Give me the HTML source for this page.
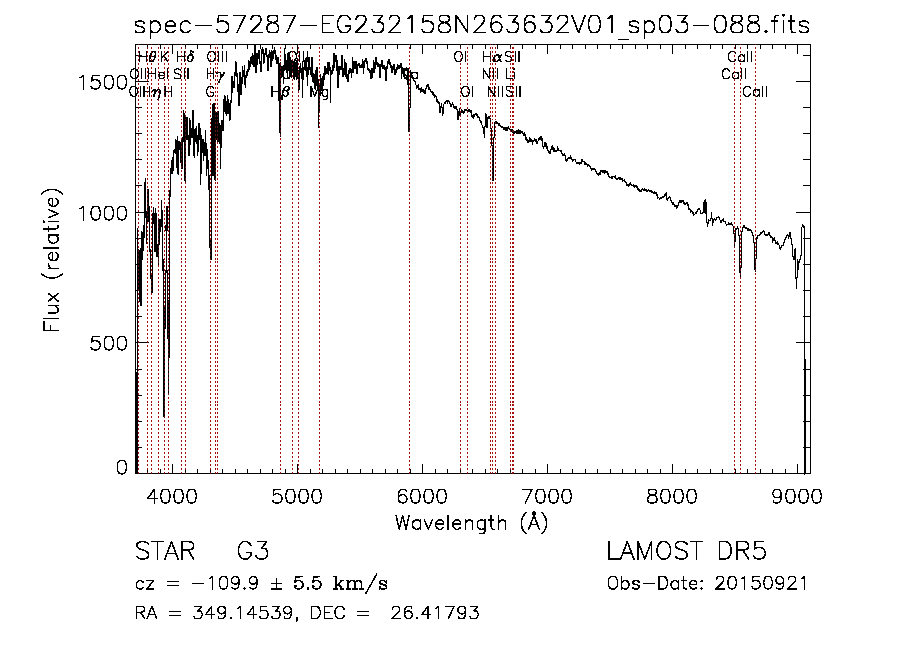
<!DOCTYPE html>
<html><head><meta charset="utf-8"><title>spec-57287-EG232158N263632V01_sp03-088</title>
<style>html,body{margin:0;padding:0;background:#fff;font-family:"Liberation Sans",sans-serif;}svg{display:block}</style>
</head><body>
<svg width="900" height="649" viewBox="0 0 900 649">
<rect width="900" height="649" fill="#fff"/>
<path transform="translate(.5 0)" d="M138 47v2M138 51v2M138 56v1M138 59v2M138 63v2M138 67v2M138 79v2M138 83v2M138 87v2M138 91v2M138 95v2M138 99v2M138 103v2M138 108v1M138 111v2M138 115v2M138 119v1M138 122v2M138 126v2M138 130v2M138 134v2M138 138v2M138 142v2M138 146v2M138 150v2M138 154v2M138 158v1M138 162v2M138 166v2M138 170v2M138 174v2M138 178v2M138 182v2M138 186v2M138 190v2M138 194v2M138 198v2M138 202v2M138 206v2M138 210v2M138 214v2M138 218v2M138 222v2M138 226v2M138 230v2M138 234v2M138 239v1M138 242v2M138 246v2M138 293v2M138 297v2M138 301v2M138 305v2M138 309v2M138 313v2M138 317v2M138 321v2M138 325v2M138 329v2M138 333v2M138 337v2M138 341v1M138 345v2M138 349v2M138 353v2M138 357v2M138 361v2M138 365v2M138 370v1M138 373v2M138 377v2M138 381v2M138 385v2M138 389v2M138 393v2M138 397v2M138 401v2M138 404v2M138 408v2M138 412v2M138 416v2M138 420v1M138 424v2M138 428v2M138 432v2M138 436v2M138 440v2M138 444v2M138 448v2M138 452v2M138 456v2M138 460v2M138 464v2M138 468v2M138 472v1M147 51v2M147 55v2M147 59v2M147 63v2M147 67v2M147 71v2M147 75v2M147 79v2M147 83v2M147 87v2M147 92v1M147 95v2M147 99v2M147 103v2M147 107v2M147 111v2M147 115v2M147 119v1M147 122v2M147 126v2M147 130v2M147 134v2M147 138v2M147 142v2M147 146v2M147 150v2M147 154v2M147 158v2M147 162v2M147 166v2M147 170v2M147 174v2M147 178v2M147 182v2M147 186v2M147 222v2M147 226v2M147 230v2M147 234v2M147 238v2M147 242v2M147 246v2M147 250v2M147 254v2M147 258v2M147 261v2M147 265v2M147 269v2M147 273v2M147 277v2M147 281v2M147 285v2M147 289v2M147 293v2M147 297v2M147 301v2M147 305v2M147 309v2M147 313v2M147 317v2M147 321v2M147 325v2M147 329v2M147 333v2M147 337v2M147 341v1M147 345v2M147 349v2M147 353v2M147 357v2M147 361v2M147 365v2M147 369v2M147 373v2M147 377v2M147 381v2M147 385v2M147 389v2M147 393v2M147 397v2M147 401v2M147 404v2M147 408v2M147 412v2M147 416v2M147 420v2M147 424v2M147 428v2M147 432v2M147 436v2M147 440v2M147 444v2M147 448v2M147 452v2M147 456v2M147 460v2M147 464v2M147 468v1M151 47v2M151 55v1M151 59v2M151 63v2M151 67v2M151 71v2M151 75v2M151 79v2M151 83v2M151 87v2M151 91v2M151 95v2M151 99v2M151 103v2M151 107v2M151 111v2M151 115v2M151 119v1M151 122v2M151 126v2M151 130v2M151 134v2M151 138v2M151 142v2M151 146v2M151 150v2M151 154v2M151 158v2M151 162v2M151 166v2M151 170v2M151 174v2M151 178v2M151 182v2M151 186v2M151 190v2M151 194v2M151 198v2M151 202v2M151 206v2M151 210v2M151 214v2M151 218v2M151 222v2M151 226v2M151 230v2M151 234v2M151 238v2M151 242v2M151 246v2M151 250v2M151 254v2M151 258v2M151 261v2M151 265v2M151 269v2M151 273v2M151 293v2M151 297v2M151 301v2M151 305v2M151 309v2M151 313v2M151 317v2M151 321v2M151 325v2M151 329v2M151 333v2M151 337v2M151 341v2M151 345v2M151 349v2M151 353v2M151 357v2M151 361v2M151 365v2M151 369v2M151 373v2M151 377v2M151 381v2M151 385v2M151 389v2M151 393v2M151 397v2M151 401v2M151 404v2M151 408v2M151 412v2M151 416v2M151 420v2M151 424v2M151 428v2M151 432v2M151 436v2M151 440v2M151 444v2M151 448v2M151 452v2M151 456v2M151 460v2M151 464v2M151 468v2M151 472v1M158 47v2M158 51v2M158 55v2M158 59v2M158 63v2M158 67v2M158 71v2M158 79v2M158 83v2M158 87v2M158 91v2M158 100v1M158 103v2M158 107v2M158 111v2M158 115v2M158 119v1M158 122v2M158 126v2M158 130v2M158 134v2M158 138v2M158 142v2M158 146v2M158 150v2M158 154v2M158 158v2M158 162v2M158 166v2M158 170v2M158 174v2M158 178v2M158 182v2M158 186v2M158 190v2M158 194v2M158 198v2M158 202v2M158 206v2M158 210v2M158 214v2M158 218v1M158 265v2M158 269v2M158 273v2M158 277v2M158 281v2M158 285v2M158 289v2M158 293v2M158 297v2M158 301v2M158 305v2M158 309v2M158 313v2M158 317v2M158 321v2M158 325v2M158 329v2M158 333v2M158 337v2M158 341v2M158 345v2M158 349v2M158 353v2M158 357v2M158 361v2M158 365v2M158 369v2M158 373v2M158 377v2M158 381v2M158 385v2M158 389v2M158 393v2M158 397v2M158 401v2M158 404v2M158 408v2M158 412v2M158 416v2M158 420v2M158 424v2M158 428v2M158 432v2M158 436v2M158 440v2M158 444v2M158 448v2M158 452v2M158 456v2M158 460v2M158 464v2M158 468v2M158 472v1M164 47v2M164 51v2M164 59v2M164 63v2M164 67v2M164 71v2M164 76v1M164 79v2M164 83v2M164 99v2M164 103v2M164 107v2M164 111v2M164 115v2M164 119v1M164 122v2M164 126v2M164 130v2M164 134v2M164 138v2M164 142v2M164 146v2M164 150v2M164 154v2M164 158v2M164 162v2M164 166v2M164 170v2M164 174v2M164 178v2M164 182v2M164 186v2M164 190v2M164 194v2M164 198v2M164 202v2M164 206v2M164 210v2M164 214v2M164 218v2M164 222v2M164 226v2M164 230v2M164 234v2M164 238v2M164 242v2M164 246v2M164 250v2M164 254v2M164 258v2M164 261v2M164 265v2M164 269v2M164 273v2M164 277v2M164 281v2M164 285v2M164 289v2M164 293v2M164 297v2M164 301v2M164 305v2M164 420v2M164 424v2M164 428v2M164 432v2M164 436v2M164 440v2M164 444v2M164 448v2M164 452v2M164 456v2M164 460v2M164 464v2M164 468v2M164 472v1M168 47v2M168 51v2M168 55v2M168 59v2M168 63v2M168 67v2M168 71v2M168 75v2M168 79v2M168 83v2M168 87v2M168 92v1M168 95v2M168 99v2M168 103v2M168 107v2M168 111v2M168 115v2M168 119v1M168 122v2M168 126v2M168 130v2M168 134v2M168 138v2M168 142v2M168 146v2M168 150v2M168 154v2M168 158v2M168 162v2M168 166v2M168 170v2M168 174v2M168 178v2M168 182v2M168 186v2M168 190v2M168 194v2M168 198v2M168 202v2M168 206v2M168 210v2M168 214v2M168 218v2M168 222v2M168 226v2M168 230v2M168 234v2M168 238v2M168 242v2M168 246v2M168 250v2M168 254v2M168 258v2M168 261v2M168 265v2M168 269v2M168 273v2M168 277v2M168 281v2M168 285v2M168 289v2M168 293v2M168 297v2M168 397v2M168 401v2M168 404v2M168 408v2M168 412v2M168 416v2M168 420v2M168 424v2M168 428v2M168 432v2M168 436v2M168 440v2M168 444v2M168 448v2M168 452v2M168 456v2M168 460v2M168 464v2M168 468v2M168 472v1M181 47v2M181 51v2M181 55v1M181 59v2M181 63v2M181 67v2M181 71v2M181 75v2M181 79v2M181 83v2M181 87v2M181 91v2M181 95v2M181 99v2M181 103v2M181 107v2M181 111v2M181 115v2M181 119v1M181 122v2M181 126v2M181 130v2M181 134v2M181 138v1M181 170v2M181 174v2M181 178v2M181 182v2M181 186v2M181 190v2M181 194v2M181 198v2M181 202v2M181 206v2M181 210v2M181 214v2M181 218v2M181 222v2M181 226v2M181 230v2M181 234v2M181 238v2M181 242v2M181 246v2M181 250v2M181 254v2M181 258v2M181 261v2M181 265v2M181 269v2M181 273v2M181 277v2M181 281v2M181 285v2M181 289v2M181 293v2M181 297v2M181 301v2M181 305v2M181 309v2M181 313v2M181 317v2M181 321v2M181 325v2M181 329v2M181 333v2M181 337v2M181 341v2M181 345v2M181 349v2M181 353v2M181 357v2M181 361v2M181 365v2M181 369v2M181 373v2M181 377v2M181 381v2M181 385v2M181 389v2M181 393v2M181 397v2M181 401v2M181 404v2M181 408v2M181 412v2M181 416v2M181 420v2M181 424v2M181 428v2M181 432v2M181 436v2M181 440v2M181 444v2M181 448v2M181 452v2M181 456v2M181 460v2M181 464v2M181 468v2M181 472v1M185 51v2M185 55v2M185 59v2M185 63v2M185 67v2M185 71v2M185 75v2M185 79v2M185 83v2M185 87v2M185 91v2M185 95v2M185 99v2M185 103v2M185 107v2M185 111v2M185 183v1M185 186v2M185 190v2M185 194v2M185 198v2M185 202v2M185 206v2M185 210v2M185 214v2M185 218v2M185 222v2M185 226v2M185 230v2M185 234v2M185 238v2M185 242v2M185 246v2M185 250v2M185 254v2M185 258v2M185 261v2M185 265v2M185 269v2M185 273v2M185 277v2M185 281v2M185 285v2M185 289v2M185 293v2M185 297v2M185 301v2M185 305v2M185 309v2M185 313v2M185 317v2M185 321v2M185 325v2M185 329v2M185 333v2M185 337v2M185 341v2M185 345v2M185 349v2M185 353v2M185 357v2M185 361v2M185 365v2M185 369v2M185 373v2M185 377v2M185 381v2M185 385v2M185 389v2M185 393v2M185 397v2M185 401v2M185 404v2M185 408v2M185 412v2M185 416v2M185 420v2M185 424v2M185 428v2M185 432v2M185 436v2M185 440v2M185 444v2M185 448v2M185 452v2M185 456v2M185 460v2M185 464v2M185 468v1M210 52v1M210 55v2M210 59v2M210 63v2M210 67v2M210 71v2M210 75v2M210 79v2M210 83v2M210 87v2M210 91v2M210 95v1M210 99v2M210 103v2M210 107v2M210 111v2M210 115v2M210 119v1M210 122v2M210 126v2M210 130v2M210 134v2M210 138v2M210 142v2M210 146v2M210 150v2M210 154v2M210 158v2M210 162v2M210 166v2M210 170v2M210 174v2M210 178v2M210 182v2M210 186v2M210 190v2M210 194v2M210 198v2M210 202v2M210 206v2M210 210v2M210 214v2M210 218v2M210 222v2M210 226v2M210 230v2M210 234v2M210 238v2M210 261v2M210 265v2M210 269v2M210 273v2M210 277v2M210 281v2M210 285v2M210 289v2M210 293v2M210 297v2M210 301v2M210 305v2M210 309v2M210 313v2M210 317v2M210 321v2M210 325v2M210 329v2M210 333v2M210 337v2M210 341v2M210 345v2M210 349v2M210 353v2M210 357v2M210 361v2M210 365v2M210 369v2M210 373v2M210 377v2M210 381v2M210 385v2M210 389v2M210 393v2M210 397v2M210 401v2M210 404v2M210 408v2M210 412v2M210 416v2M210 420v2M210 424v2M210 428v2M210 432v2M210 436v2M210 440v2M210 444v2M210 448v2M210 452v2M210 456v2M210 460v2M210 464v2M210 468v1M215 47v2M215 51v2M215 59v2M215 63v2M215 67v2M215 71v2M215 75v2M215 79v2M215 83v2M215 87v2M215 91v2M215 95v2M215 99v2M215 103v2M215 107v2M215 182v2M215 186v2M215 190v2M215 194v2M215 198v2M215 202v2M215 206v2M215 210v2M215 214v2M215 218v2M215 222v2M215 226v2M215 230v2M215 234v2M215 238v2M215 242v2M215 246v2M215 250v2M215 254v2M215 258v2M215 261v2M215 265v2M215 269v2M215 273v2M215 277v2M215 281v2M215 285v2M215 289v2M215 293v2M215 297v2M215 301v2M215 305v2M215 309v2M215 313v2M215 317v2M215 321v2M215 325v2M215 329v2M215 333v2M215 337v2M215 341v2M215 345v2M215 349v2M215 353v2M215 357v2M215 361v2M215 365v2M215 369v2M215 373v2M215 377v2M215 381v2M215 385v2M215 389v2M215 393v2M215 397v2M215 401v2M215 404v2M215 408v2M215 412v2M215 416v2M215 420v2M215 424v2M215 428v2M215 432v2M215 436v2M215 440v2M215 444v2M215 448v2M215 452v2M215 456v2M215 460v2M215 464v2M215 468v2M215 472v1M217 47v2M217 51v2M217 55v2M217 59v2M217 63v2M217 67v2M217 71v1M217 75v2M217 79v2M217 83v2M217 87v2M217 91v2M217 95v2M217 99v2M217 103v2M217 107v2M217 142v2M217 146v2M217 150v2M217 154v2M217 158v2M217 162v2M217 166v2M217 170v2M217 174v2M217 178v2M217 182v2M217 186v2M217 190v2M217 194v2M217 198v2M217 202v2M217 206v2M217 210v2M217 214v2M217 218v2M217 222v2M217 226v2M217 230v2M217 234v2M217 238v2M217 242v2M217 246v2M217 250v2M217 254v2M217 258v2M217 261v2M217 265v2M217 269v2M217 273v2M217 277v2M217 281v2M217 285v2M217 289v2M217 293v2M217 297v2M217 301v2M217 305v2M217 309v2M217 313v2M217 317v2M217 321v2M217 325v2M217 329v2M217 333v2M217 337v2M217 341v2M217 345v2M217 349v2M217 353v2M217 357v2M217 361v2M217 365v2M217 369v2M217 373v2M217 377v2M217 381v2M217 385v2M217 389v2M217 393v2M217 397v2M217 401v2M217 404v2M217 408v2M217 412v2M217 416v2M217 420v2M217 424v2M217 428v2M217 432v2M217 436v2M217 440v2M217 444v2M217 448v2M217 452v2M217 456v2M217 460v2M217 464v2M217 468v2M217 472v1M280 47v2M280 51v2M280 55v2M280 59v2M280 138v2M280 142v2M280 146v2M280 150v2M280 154v2M280 158v2M280 162v2M280 166v2M280 170v2M280 174v2M280 178v2M280 182v2M280 186v2M280 190v2M280 194v2M280 198v2M280 202v2M280 206v2M280 210v2M280 214v2M280 218v2M280 222v2M280 226v2M280 230v2M280 234v2M280 238v2M280 242v2M280 246v2M280 250v2M280 254v2M280 258v2M280 261v2M280 265v2M280 269v2M280 273v2M280 277v2M280 281v2M280 285v2M280 289v2M280 293v2M280 297v2M280 301v2M280 305v2M280 309v2M280 313v2M280 317v2M280 321v2M280 325v2M280 329v2M280 333v2M280 337v2M280 341v2M280 345v2M280 349v2M280 353v2M280 357v2M280 361v2M280 365v2M280 369v2M280 373v2M280 377v2M280 381v2M280 385v2M280 389v2M280 393v2M280 397v2M280 401v2M280 404v2M280 408v2M280 412v2M280 416v2M280 420v2M280 424v2M280 428v2M280 432v2M280 436v2M280 440v2M280 444v2M280 448v2M280 452v2M280 456v2M280 460v2M280 464v2M280 468v2M280 472v1M292 47v2M292 52v1M292 55v2M292 59v1M292 75v2M292 79v2M292 83v2M292 87v2M292 91v2M292 95v2M292 99v2M292 103v2M292 107v2M292 111v2M292 115v2M292 119v1M292 122v2M292 126v2M292 130v2M292 134v2M292 138v2M292 142v2M292 146v2M292 150v2M292 154v2M292 158v2M292 162v2M292 166v2M292 170v2M292 174v2M292 178v2M292 182v2M292 186v2M292 190v2M292 194v2M292 198v2M292 202v2M292 206v2M292 210v2M292 214v2M292 218v2M292 222v2M292 226v2M292 230v2M292 234v2M292 238v2M292 242v2M292 246v2M292 250v2M292 254v2M292 258v2M292 261v2M292 265v2M292 269v2M292 273v2M292 277v2M292 281v2M292 285v2M292 289v2M292 293v2M292 297v2M292 301v2M292 305v2M292 309v2M292 313v2M292 317v2M292 321v2M292 325v2M292 329v2M292 333v2M292 337v2M292 341v2M292 345v2M292 349v2M292 353v2M292 357v2M292 361v2M292 365v2M292 369v2M292 373v2M292 377v2M292 381v2M292 385v2M292 389v2M292 393v2M292 397v2M292 401v2M292 404v2M292 408v2M292 412v2M292 416v2M292 420v2M292 424v2M292 428v2M292 432v2M292 436v2M292 440v2M292 444v2M292 448v2M292 452v2M292 456v2M292 460v2M292 464v2M292 468v2M292 472v1M298 47v2M298 51v2M298 55v2M298 59v2M298 63v2M298 67v2M298 91v2M298 95v2M298 99v2M298 103v2M298 107v2M298 111v2M298 115v2M298 119v1M298 122v2M298 126v2M298 130v2M298 134v2M298 138v2M298 142v2M298 146v2M298 150v2M298 154v2M298 158v2M298 162v2M298 166v2M298 170v2M298 174v2M298 178v2M298 182v2M298 186v2M298 190v2M298 194v2M298 198v2M298 202v2M298 206v2M298 210v2M298 214v2M298 218v2M298 222v2M298 226v2M298 230v2M298 234v2M298 238v2M298 242v2M298 246v2M298 250v2M298 254v2M298 258v2M298 261v2M298 265v2M298 269v2M298 273v2M298 277v2M298 281v2M298 285v2M298 289v2M298 293v2M298 297v2M298 301v2M298 305v2M298 309v2M298 313v2M298 317v2M298 321v2M298 325v2M298 329v2M298 333v2M298 337v2M298 341v2M298 345v2M298 349v2M298 353v2M298 357v2M298 361v2M298 365v2M298 369v2M298 373v2M298 377v2M298 381v2M298 385v2M298 389v2M298 393v2M298 397v2M298 401v2M298 404v2M298 408v2M298 412v2M298 416v2M298 420v2M298 424v2M298 428v2M298 432v2M298 436v2M298 440v2M298 444v2M298 448v2M298 452v2M298 456v2M298 460v2M298 464v2M298 468v2M298 472v1M319 47v2M319 51v2M319 55v2M319 59v2M319 63v2M319 67v2M319 71v2M319 75v2M319 79v2M319 83v2M319 115v2M319 119v1M319 122v2M319 126v2M319 130v2M319 134v2M319 138v2M319 142v2M319 146v2M319 150v2M319 154v2M319 158v2M319 162v2M319 166v2M319 170v2M319 174v2M319 178v2M319 182v2M319 186v2M319 190v2M319 194v2M319 198v2M319 202v2M319 206v2M319 210v2M319 214v2M319 218v2M319 222v2M319 226v2M319 230v2M319 234v2M319 238v2M319 242v2M319 246v2M319 250v2M319 254v2M319 258v2M319 261v2M319 265v2M319 269v2M319 273v2M319 277v2M319 281v2M319 285v2M319 289v2M319 293v2M319 297v2M319 301v2M319 305v2M319 309v2M319 313v2M319 317v2M319 321v2M319 325v2M319 329v2M319 333v2M319 337v2M319 341v2M319 345v2M319 349v2M319 353v2M319 357v2M319 361v2M319 365v2M319 369v2M319 373v2M319 377v2M319 381v2M319 385v2M319 389v2M319 393v2M319 397v2M319 401v2M319 404v2M319 408v2M319 412v2M319 416v2M319 420v2M319 424v2M319 428v2M319 432v2M319 436v2M319 440v2M319 444v2M319 448v2M319 452v2M319 456v2M319 460v2M319 464v2M319 468v2M319 472v1M409 47v2M409 51v2M409 55v2M409 59v2M409 63v2M409 67v2M409 71v2M409 75v2M409 79v2M409 83v2M409 87v2M409 91v2M409 95v2M409 99v2M409 103v2M409 134v2M409 138v2M409 142v2M409 146v2M409 150v2M409 154v2M409 158v2M409 162v2M409 166v2M409 170v2M409 174v2M409 178v2M409 182v2M409 186v2M409 190v2M409 194v2M409 198v2M409 202v2M409 206v2M409 210v2M409 214v2M409 218v2M409 222v2M409 226v2M409 230v2M409 234v2M409 238v2M409 242v2M409 246v2M409 250v2M409 254v2M409 258v2M409 261v2M409 265v2M409 269v2M409 273v2M409 277v2M409 281v2M409 285v2M409 289v2M409 293v2M409 297v2M409 301v2M409 305v2M409 309v2M409 313v2M409 317v2M409 321v2M409 325v2M409 329v2M409 333v2M409 337v2M409 341v2M409 345v2M409 349v2M409 353v2M409 357v2M409 361v2M409 365v2M409 369v2M409 373v2M409 377v2M409 381v2M409 385v2M409 389v2M409 393v2M409 397v2M409 401v2M409 404v2M409 408v2M409 412v2M409 416v2M409 420v2M409 424v2M409 428v2M409 432v2M409 436v2M409 440v2M409 444v2M409 448v2M409 452v2M409 456v2M409 460v2M409 464v2M409 468v2M409 472v1M460 55v2M460 59v1M460 63v2M460 67v2M460 71v2M460 75v2M460 79v2M460 83v2M460 87v2M460 91v2M460 95v2M460 99v2M460 103v2M460 107v2M460 111v1M460 116v1M460 119v1M460 122v2M460 126v2M460 130v2M460 134v2M460 138v2M460 142v2M460 146v2M460 150v2M460 154v2M460 158v2M460 162v2M460 166v2M460 170v2M460 174v2M460 178v2M460 182v2M460 186v2M460 190v2M460 194v2M460 198v2M460 202v2M460 206v2M460 210v2M460 214v2M460 218v2M460 222v2M460 226v2M460 230v2M460 234v2M460 238v2M460 242v2M460 246v2M460 250v2M460 254v2M460 258v2M460 261v2M460 265v2M460 269v2M460 273v2M460 277v2M460 281v2M460 285v2M460 289v2M460 293v2M460 297v2M460 301v2M460 305v2M460 309v2M460 313v2M460 317v2M460 321v2M460 325v2M460 329v2M460 333v2M460 337v2M460 341v2M460 345v2M460 349v2M460 353v2M460 357v2M460 361v2M460 365v2M460 369v2M460 373v2M460 377v2M460 381v2M460 385v2M460 389v2M460 393v2M460 397v2M460 401v2M460 404v2M460 408v2M460 412v2M460 416v2M460 420v2M460 424v2M460 428v2M460 432v2M460 436v2M460 440v2M460 444v2M460 448v2M460 452v2M460 456v2M460 460v2M460 464v2M460 468v1M467 47v2M467 51v2M467 55v2M467 59v2M467 63v2M467 67v2M467 71v2M467 75v2M467 79v2M467 83v2M467 88v1M467 91v2M467 99v2M467 103v2M467 107v2M467 115v2M467 119v1M467 122v2M467 126v2M467 130v2M467 134v2M467 138v2M467 142v2M467 146v2M467 150v2M467 154v2M467 158v2M467 162v2M467 166v2M467 170v2M467 174v2M467 178v2M467 182v2M467 186v2M467 190v2M467 194v2M467 198v2M467 202v2M467 206v2M467 210v2M467 214v2M467 218v2M467 222v2M467 226v2M467 230v2M467 234v2M467 238v2M467 242v2M467 246v2M467 250v2M467 254v2M467 258v2M467 261v2M467 265v2M467 269v2M467 273v2M467 277v2M467 281v2M467 285v2M467 289v2M467 293v2M467 297v2M467 301v2M467 305v2M467 309v2M467 313v2M467 317v2M467 321v2M467 325v2M467 329v2M467 333v2M467 337v2M467 341v2M467 345v2M467 349v2M467 353v2M467 357v2M467 361v2M467 365v2M467 369v2M467 373v2M467 377v2M467 381v2M467 385v2M467 389v2M467 393v2M467 397v2M467 401v2M467 404v2M467 408v2M467 412v2M467 416v2M467 420v2M467 424v2M467 428v2M467 432v2M467 436v2M467 440v2M467 444v2M467 448v2M467 452v2M467 456v2M467 460v2M467 464v2M467 468v2M467 472v1M490 47v2M490 63v2M490 67v2M490 71v2M490 75v2M490 79v2M490 83v2M490 87v2M490 91v2M490 95v2M490 99v2M490 103v2M490 107v2M490 111v2M490 115v2M490 130v2M490 134v2M490 138v2M490 142v2M490 146v2M490 150v2M490 154v2M490 158v2M490 162v2M490 166v2M490 170v2M490 174v2M490 178v2M490 182v2M490 186v2M490 190v2M490 194v2M490 198v2M490 202v2M490 206v2M490 210v2M490 214v2M490 218v2M490 222v2M490 226v2M490 230v2M490 234v2M490 238v2M490 242v2M490 246v2M490 250v2M490 254v2M490 258v2M490 261v2M490 265v2M490 269v2M490 273v2M490 277v2M490 281v2M490 285v2M490 289v2M490 293v2M490 297v2M490 301v2M490 305v2M490 309v2M490 313v2M490 317v2M490 321v2M490 325v2M490 329v2M490 333v2M490 337v2M490 341v2M490 345v2M490 349v2M490 353v2M490 357v2M490 361v2M490 365v2M490 369v2M490 373v2M490 377v2M490 381v2M490 385v2M490 389v2M490 393v2M490 397v2M490 401v2M490 404v2M490 408v2M490 412v2M490 416v2M490 420v2M490 424v2M490 428v2M490 432v2M490 436v2M490 440v2M490 444v2M490 448v2M490 452v2M490 456v2M490 460v2M490 464v2M490 468v2M490 472v1M492 47v2M492 51v2M492 55v2M492 59v2M492 63v2M492 67v2M492 71v2M492 75v2M492 79v2M492 83v2M492 87v2M492 95v2M492 99v2M492 103v2M492 107v2M492 111v2M492 115v2M492 119v1M492 122v2M492 126v2M492 130v2M492 134v2M492 138v2M492 142v2M492 182v2M492 186v2M492 190v2M492 194v2M492 198v2M492 202v2M492 206v2M492 210v2M492 214v2M492 218v2M492 222v2M492 226v2M492 230v2M492 234v2M492 238v2M492 242v2M492 246v2M492 250v2M492 254v2M492 258v2M492 261v2M492 265v2M492 269v2M492 273v2M492 277v2M492 281v2M492 285v2M492 289v2M492 293v2M492 297v2M492 301v2M492 305v2M492 309v2M492 313v2M492 317v2M492 321v2M492 325v2M492 329v2M492 333v2M492 337v2M492 341v2M492 345v2M492 349v2M492 353v2M492 357v2M492 361v2M492 365v2M492 369v2M492 373v2M492 377v2M492 381v2M492 385v2M492 389v2M492 393v2M492 397v2M492 401v2M492 404v2M492 408v2M492 412v2M492 416v2M492 420v2M492 424v2M492 428v2M492 432v2M492 436v2M492 440v2M492 444v2M492 448v2M492 452v2M492 456v2M492 460v2M492 464v2M492 468v2M492 472v1M495 47v2M495 51v2M495 59v2M495 63v2M495 67v2M495 71v2M495 75v2M495 79v2M495 83v2M495 87v2M495 91v2M495 95v2M495 99v2M495 103v2M495 107v2M495 111v2M495 115v2M495 119v1M495 126v2M495 130v2M495 134v2M495 138v2M495 142v2M495 146v2M495 150v2M495 154v2M495 158v2M495 162v2M495 166v2M495 170v2M495 174v2M495 178v2M495 182v2M495 186v2M495 190v2M495 194v2M495 198v2M495 202v2M495 206v2M495 210v2M495 214v2M495 218v2M495 222v2M495 226v2M495 230v2M495 234v2M495 238v2M495 242v2M495 246v2M495 250v2M495 254v2M495 258v2M495 261v2M495 265v2M495 269v2M495 273v2M495 277v2M495 281v2M495 285v2M495 289v2M495 293v2M495 297v2M495 301v2M495 305v2M495 309v2M495 313v2M495 317v2M495 321v2M495 325v2M495 329v2M495 333v2M495 337v2M495 341v2M495 345v2M495 349v2M495 353v2M495 357v2M495 361v2M495 365v2M495 369v2M495 373v2M495 377v2M495 381v2M495 385v2M495 389v2M495 393v2M495 397v2M495 401v2M495 404v2M495 408v2M495 412v2M495 416v2M495 420v2M495 424v2M495 428v2M495 432v2M495 436v2M495 440v2M495 444v2M495 448v2M495 452v2M495 456v2M495 460v2M495 464v2M495 468v2M495 472v1M510 55v1M510 59v1M510 63v2M510 67v2M510 71v2M510 75v2M510 79v2M510 83v2M510 87v2M510 92v1M510 95v1M510 99v2M510 103v2M510 107v2M510 111v2M510 115v2M510 119v1M510 122v2M510 126v2M510 131v1M510 134v2M510 138v2M510 142v2M510 146v2M510 150v2M510 154v2M510 158v2M510 162v2M510 166v2M510 170v2M510 174v2M510 178v2M510 182v2M510 186v2M510 190v2M510 194v2M510 198v2M510 202v2M510 206v2M510 210v2M510 214v2M510 218v2M510 222v2M510 226v2M510 230v2M510 234v2M510 238v2M510 242v2M510 246v2M510 250v2M510 254v2M510 258v2M510 261v2M510 265v2M510 269v2M510 273v2M510 277v2M510 281v2M510 285v2M510 289v2M510 293v2M510 297v2M510 301v2M510 305v2M510 309v2M510 313v2M510 317v2M510 321v2M510 325v2M510 329v2M510 333v2M510 337v2M510 341v2M510 345v2M510 349v2M510 353v2M510 357v2M510 361v2M510 365v2M510 369v2M510 373v2M510 377v2M510 381v2M510 385v2M510 389v2M510 393v2M510 397v2M510 401v2M510 404v2M510 408v2M510 412v2M510 416v2M510 420v2M510 424v2M510 428v2M510 432v2M510 436v2M510 440v2M510 444v2M510 448v2M510 452v2M510 456v2M510 460v2M510 464v2M510 468v1M512 47v2M512 51v2M512 55v2M512 59v2M512 63v2M512 67v2M512 71v2M512 75v2M512 79v2M512 83v2M512 88v1M512 91v1M512 96v1M512 99v2M512 103v2M512 107v2M512 111v2M512 115v2M512 119v1M512 122v2M512 126v2M512 134v2M512 138v2M512 142v2M512 146v2M512 150v2M512 154v2M512 158v2M512 162v2M512 166v2M512 170v2M512 174v2M512 178v2M512 182v2M512 186v2M512 190v2M512 194v2M512 198v2M512 202v2M512 206v2M512 210v2M512 214v2M512 218v2M512 222v2M512 226v2M512 230v2M512 234v2M512 238v2M512 242v2M512 246v2M512 250v2M512 254v2M512 258v2M512 261v2M512 265v2M512 269v2M512 273v2M512 277v2M512 281v2M512 285v2M512 289v2M512 293v2M512 297v2M512 301v2M512 305v2M512 309v2M512 313v2M512 317v2M512 321v2M512 325v2M512 329v2M512 333v2M512 337v2M512 341v2M512 345v2M512 349v2M512 353v2M512 357v2M512 361v2M512 365v2M512 369v2M512 373v2M512 377v2M512 381v2M512 385v2M512 389v2M512 393v2M512 397v2M512 401v2M512 404v2M512 408v2M512 412v2M512 416v2M512 420v2M512 424v2M512 428v2M512 432v2M512 436v2M512 440v2M512 444v2M512 448v2M512 452v2M512 456v2M512 460v2M512 464v2M512 468v2M512 472v1M513 47v2M513 51v2M513 55v2M513 59v2M513 63v2M513 67v1M513 71v2M513 75v2M513 79v2M513 83v2M513 87v2M513 91v2M513 95v2M513 99v2M513 103v2M513 107v2M513 111v2M513 115v2M513 119v1M513 122v2M513 126v2M513 134v2M513 138v2M513 142v2M513 146v2M513 150v2M513 154v2M513 158v2M513 162v2M513 166v2M513 170v2M513 174v2M513 178v2M513 182v2M513 186v2M513 190v2M513 194v2M513 198v2M513 202v2M513 206v2M513 210v2M513 214v2M513 218v2M513 222v2M513 226v2M513 230v2M513 234v2M513 238v2M513 242v2M513 246v2M513 250v2M513 254v2M513 258v2M513 261v2M513 265v2M513 269v2M513 273v2M513 277v2M513 281v2M513 285v2M513 289v2M513 293v2M513 297v2M513 301v2M513 305v2M513 309v2M513 313v2M513 317v2M513 321v2M513 325v2M513 329v2M513 333v2M513 337v2M513 341v2M513 345v2M513 349v2M513 353v2M513 357v2M513 361v2M513 365v2M513 369v2M513 373v2M513 377v2M513 381v2M513 385v2M513 389v2M513 393v2M513 397v2M513 401v2M513 404v2M513 408v2M513 412v2M513 416v2M513 420v2M513 424v2M513 428v2M513 432v2M513 436v2M513 440v2M513 444v2M513 448v2M513 452v2M513 456v2M513 460v2M513 464v2M513 468v2M513 472v1M734 47v2M734 55v2M734 59v1M734 63v2M734 67v2M734 71v1M734 75v2M734 79v2M734 83v2M734 87v2M734 91v2M734 95v2M734 99v2M734 103v2M734 107v2M734 111v2M734 115v2M734 119v1M734 122v2M734 126v2M734 130v2M734 134v2M734 138v2M734 142v2M734 146v2M734 150v2M734 154v2M734 158v2M734 162v2M734 166v2M734 170v2M734 174v2M734 178v2M734 182v2M734 186v2M734 190v2M734 194v2M734 198v2M734 202v2M734 206v2M734 210v2M734 214v2M734 218v2M734 222v2M734 226v2M734 230v2M734 250v2M734 254v2M734 258v2M734 261v2M734 265v2M734 269v2M734 273v2M734 277v2M734 281v2M734 285v2M734 289v2M734 293v2M734 297v2M734 301v2M734 305v2M734 309v2M734 313v2M734 317v2M734 321v2M734 325v2M734 329v2M734 333v2M734 337v2M734 341v2M734 345v2M734 349v2M734 353v2M734 357v2M734 361v2M734 365v2M734 369v2M734 373v2M734 377v2M734 381v2M734 385v2M734 389v2M734 393v2M734 397v2M734 401v2M734 404v2M734 408v2M734 412v2M734 416v2M734 420v2M734 424v2M734 428v2M734 432v2M734 436v2M734 440v2M734 444v2M734 448v2M734 452v2M734 456v2M734 460v2M734 464v2M734 468v2M734 472v1M740 47v2M740 51v2M740 56v1M740 59v2M740 63v2M740 67v2M740 71v2M740 75v2M740 79v2M740 83v2M740 87v2M740 91v2M740 95v2M740 99v2M740 103v2M740 107v2M740 111v2M740 115v2M740 119v1M740 122v2M740 126v2M740 130v2M740 134v2M740 138v2M740 142v2M740 146v2M740 150v2M740 154v2M740 158v2M740 162v2M740 166v2M740 170v2M740 174v2M740 178v2M740 182v2M740 186v2M740 190v2M740 194v2M740 198v2M740 202v2M740 206v2M740 210v2M740 214v2M740 218v2M740 222v2M740 226v2M740 230v2M740 234v2M740 238v2M740 242v2M740 246v2M740 250v2M740 254v2M740 258v2M740 261v2M740 265v2M740 277v2M740 281v2M740 285v2M740 289v2M740 293v2M740 297v2M740 301v2M740 305v2M740 309v2M740 313v2M740 317v2M740 321v2M740 325v2M740 329v2M740 333v2M740 337v2M740 341v2M740 345v2M740 349v2M740 353v2M740 357v2M740 361v2M740 365v2M740 369v2M740 373v2M740 377v2M740 381v2M740 385v2M740 389v2M740 393v2M740 397v2M740 401v2M740 404v2M740 408v2M740 412v2M740 416v2M740 420v2M740 424v2M740 428v2M740 432v2M740 436v2M740 440v2M740 444v2M740 448v2M740 452v2M740 456v2M740 460v2M740 464v2M740 468v2M740 472v1M755 47v2M755 51v2M755 55v2M755 59v2M755 63v2M755 67v2M755 71v2M755 75v2M755 79v2M755 83v2M755 87v2M755 91v2M755 99v2M755 103v2M755 107v2M755 111v2M755 115v2M755 119v1M755 122v2M755 126v2M755 130v2M755 134v2M755 138v2M755 142v2M755 146v2M755 150v2M755 154v2M755 158v2M755 162v2M755 166v2M755 170v2M755 174v2M755 178v2M755 182v2M755 186v2M755 190v2M755 194v2M755 198v2M755 202v2M755 206v2M755 210v2M755 214v2M755 218v2M755 222v2M755 226v2M755 230v2M755 234v2M755 238v2M755 242v2M755 246v2M755 250v2M755 254v2M755 273v2M755 277v2M755 281v2M755 285v2M755 289v2M755 293v2M755 297v2M755 301v2M755 305v2M755 309v2M755 313v2M755 317v2M755 321v2M755 325v2M755 329v2M755 333v2M755 337v2M755 341v2M755 345v2M755 349v2M755 353v2M755 357v2M755 361v2M755 365v2M755 369v2M755 373v2M755 377v2M755 381v2M755 385v2M755 389v2M755 393v2M755 397v2M755 401v2M755 404v2M755 408v2M755 412v2M755 416v2M755 420v2M755 424v2M755 428v2M755 432v2M755 436v2M755 440v2M755 444v2M755 448v2M755 452v2M755 456v2M755 460v2M755 464v2M755 468v2M755 472v1" stroke="#a50c0c" stroke-width="1" fill="none" shape-rendering="crispEdges"/>
<path transform="translate(.5 0)" d="M41 193v2M41 273v2M42 192v2M42 274v2M43 191v2M43 220v3M43 228v2M43 247v2M43 274v2M43 318v1M43 321v10M44 191v1M44 221v2M44 228v2M44 247v2M44 275v2M44 318v1M44 321v10M45 190v2M45 228v2M45 247v2M45 276v1M45 318v1M45 330v1M46 190v1M46 228v2M46 247v2M46 276v2M46 318v1M46 330v1M47 189v2M47 228v2M47 247v2M47 277v1M47 318v1M47 330v1M48 189v2M48 199v5M48 209v1M48 217v1M48 221v1M48 226v6M48 234v7M48 247v2M48 254v5M48 263v4M48 268v1M48 277v1M48 293v2M48 300v2M48 305v1M48 312v2M48 318v1M48 330v1M49 189v1M49 198v3M49 203v3M49 209v2M49 216v2M49 221v1M49 228v2M49 234v4M49 240v3M49 247v2M49 253v2M49 257v3M49 265v4M49 277v2M49 293v2M49 299v2M49 305v1M49 312v2M49 318v1M49 330v1M50 189v1M50 198v1M50 204v2M50 210v1M50 216v2M50 221v1M50 228v2M50 234v2M50 241v2M50 247v2M50 252v2M50 259v2M50 267v2M50 277v2M50 294v2M50 298v3M50 305v1M50 312v2M50 318v1M50 325v6M51 189v1M51 198v1M51 205v2M51 210v2M51 216v1M51 221v1M51 228v2M51 234v2M51 242v2M51 247v2M51 252v1M51 259v2M51 268v1M51 277v2M51 295v2M51 298v2M51 305v1M51 312v2M51 318v1M51 330v1M52 189v1M52 198v9M52 210v2M52 215v2M52 221v1M52 228v2M52 234v2M52 242v2M52 247v2M52 252v9M52 268v1M52 277v2M52 296v3M52 305v1M52 312v2M52 318v1M52 330v1M53 189v1M53 206v1M53 211v2M53 215v1M53 221v1M53 228v2M53 234v2M53 243v1M53 247v2M53 260v1M53 268v1M53 277v2M53 296v2M53 305v1M53 312v2M53 318v1M53 330v1M54 189v1M54 205v2M54 211v2M54 214v2M54 221v1M54 228v2M54 234v2M54 242v2M54 247v2M54 260v1M54 268v1M54 277v2M54 295v4M54 305v1M54 312v2M54 318v1M54 330v1M55 189v2M55 198v1M55 205v2M55 212v1M55 214v2M55 221v1M55 228v2M55 234v2M55 242v1M55 247v2M55 252v1M55 259v2M55 268v1M55 277v1M55 295v2M55 298v2M55 305v2M55 312v2M55 318v1M55 330v1M56 189v2M56 198v2M56 204v2M56 212v3M56 221v1M56 228v1M56 234v3M56 241v2M56 247v2M56 252v2M56 258v3M56 268v1M56 277v1M56 294v2M56 299v2M56 305v3M56 312v1M56 318v1M56 330v1M57 190v1M57 199v6M57 213v2M57 221v1M57 225v4M57 234v8M57 247v2M57 253v7M57 268v1M57 276v2M57 293v2M57 300v2M57 305v1M57 307v6M57 318v1M57 330v1M58 190v2M58 200v4M58 213v1M58 221v1M58 225v3M58 234v2M58 237v4M58 247v2M58 254v4M58 268v1M58 276v1M58 293v1M58 300v2M58 305v1M58 308v4M58 318v1M58 330v1M59 191v2M59 275v2M60 191v2M60 274v2M61 192v2M61 274v2M62 193v2M62 273v2M79 77v1M79 208v1M80 77v1M80 208v1M81 76v2M81 207v2M82 75v2M82 206v2M83 75v15M83 206v15M90 86v1M90 211v4M90 347v1M91 77v5M91 86v3M91 208v10M91 338v5M91 347v3M92 75v6M92 87v2M92 206v3M92 217v3M92 336v6M92 348v2M93 75v1M93 79v2M93 88v1M93 206v2M93 218v2M93 336v1M93 340v2M93 349v1M94 75v1M94 79v1M94 88v2M94 206v1M94 219v2M94 336v1M94 340v1M94 349v2M95 75v1M95 79v1M95 88v2M95 206v1M95 219v2M95 336v1M95 340v1M95 349v2M96 75v1M96 79v2M96 88v2M96 206v1M96 219v2M96 336v1M96 340v2M96 349v2M97 75v1M97 79v2M97 88v1M97 206v1M97 219v1M97 336v1M97 340v2M97 349v1M98 75v1M98 80v2M98 87v2M98 206v3M98 218v2M98 336v1M98 341v2M98 348v2M99 75v1M99 80v4M99 85v3M99 207v5M99 214v5M99 336v1M99 341v4M99 346v3M100 82v4M100 210v6M100 343v4M104 77v10M104 208v10M104 338v10M105 75v3M105 86v3M105 206v3M105 217v3M105 336v3M105 347v3M106 75v2M106 87v2M106 206v2M106 218v2M106 336v2M106 348v2M107 75v1M107 88v1M107 206v1M107 219v1M107 336v1M107 349v1M108 75v1M108 88v2M108 206v1M108 219v2M108 336v1M108 349v2M109 75v1M109 88v2M109 206v1M109 219v2M109 336v1M109 349v2M110 75v1M110 88v1M110 206v1M110 219v1M110 336v1M110 349v1M111 75v2M111 87v2M111 206v2M111 218v2M111 336v2M111 348v2M112 76v4M112 84v4M112 207v4M112 215v4M112 337v4M112 345v4M113 78v8M113 209v8M113 339v8M117 77v10M117 208v10M117 338v10M117 462v10M118 76v2M118 86v3M118 207v2M118 217v3M118 337v2M118 347v3M118 461v2M118 471v3M119 75v2M119 87v2M119 206v2M119 218v2M119 336v2M119 348v2M119 460v2M119 472v2M120 75v1M120 88v1M120 206v1M120 219v1M120 336v1M120 349v1M120 460v1M120 473v1M121 75v1M121 88v2M121 206v1M121 219v2M121 336v1M121 349v2M121 460v1M121 473v2M122 75v1M122 88v2M122 206v1M122 219v2M122 336v1M122 349v2M122 460v1M122 473v2M123 75v1M123 88v1M123 206v1M123 219v1M123 336v1M123 349v1M123 460v1M123 473v1M124 75v2M124 87v2M124 206v2M124 218v2M124 336v2M124 348v2M124 460v2M124 472v2M125 76v4M125 84v4M125 207v4M125 215v4M125 337v4M125 345v4M125 461v4M125 469v4M126 78v8M126 209v8M126 339v8M126 463v8M129 89v4M130 71v6M130 87v3M130 92v4M131 69v3M131 76v2M131 86v2M131 94v2M132 69v1M132 77v2M132 86v1M132 95v2M133 68v2M133 78v1M133 86v1M133 96v1M134 68v1M134 78v1M134 86v1M134 96v1M135 21v5M135 30v3M135 44v430M136 21v2M136 24v2M136 31v2M136 44v1M136 55v1M136 69v2M136 77v2M136 81v1M136 87v2M136 93v3M136 107v1M136 133v1M136 159v1M136 185v1M136 212v1M136 238v1M136 264v1M136 290v1M136 316v1M136 342v1M136 369v1M136 372v102M136 543v4M136 556v1M136 582v6M136 606v13M137 21v1M137 25v2M137 32v1M137 44v1M137 55v1M137 69v3M137 75v3M137 81v1M137 88v6M137 107v1M137 133v1M137 159v1M137 185v1M137 212v1M137 228v246M137 542v6M137 556v2M137 581v2M137 587v2M137 606v1M137 612v1M138 20v2M138 25v2M138 32v1M138 73v2M138 81v1M138 133v1M138 185v1M138 212v1M138 249v1M138 252v2M138 256v2M138 260v1M138 263v2M138 267v2M138 271v2M138 275v2M138 279v2M138 283v2M138 287v2M138 316v1M138 395v1M138 447v1M138 542v2M138 547v2M138 557v2M138 580v2M138 588v1M138 606v1M138 612v1M139 20v2M139 26v1M139 32v1M139 44v1M139 51v11M139 81v1M139 107v1M139 133v1M139 159v1M139 185v1M139 212v1M139 238v1M139 250v52M139 316v1M139 342v1M139 369v1M139 395v1M139 421v1M139 447v1M139 473v1M139 541v2M139 548v2M139 558v1M139 580v1M139 588v2M139 606v1M139 612v1M140 20v2M140 26v1M140 32v1M140 44v1M140 55v2M140 81v1M140 86v11M140 107v1M140 133v1M140 159v1M140 185v1M140 212v1M140 238v1M140 248v58M140 316v1M140 342v1M140 369v1M140 395v1M140 421v1M140 447v1M140 473v1M140 541v2M140 548v2M140 558v2M140 580v1M140 588v2M140 606v1M140 612v2M141 20v2M141 26v2M141 32v1M141 44v1M141 55v2M141 68v11M141 81v1M141 107v1M141 133v1M141 159v1M141 185v1M141 212v1M141 231v75M141 316v1M141 342v1M141 369v1M141 395v1M141 421v1M141 447v1M141 473v1M141 541v1M141 549v1M141 558v2M141 580v2M141 588v2M141 606v1M141 611v4M142 21v1M142 26v2M142 31v2M142 44v1M142 56v1M142 81v1M142 212v1M142 232v28M142 342v1M142 473v1M142 541v1M142 549v2M142 558v2M142 581v2M142 587v2M142 606v1M142 611v2M142 614v3M143 21v3M143 27v2M143 30v3M143 44v1M143 56v1M143 81v1M143 86v11M143 212v1M143 225v26M143 342v1M143 473v1M143 541v1M143 549v2M143 558v2M143 581v2M143 587v1M143 606v2M143 610v2M143 615v3M144 22v2M144 28v4M144 44v1M144 56v1M144 81v1M144 86v11M144 182v56M144 342v1M144 473v1M144 541v2M144 550v1M144 558v2M144 607v5M144 617v2M145 44v1M145 56v1M145 68v11M145 81v1M145 91v1M145 178v40M145 342v1M145 473v1M145 541v2M145 550v2M145 558v1M146 44v1M146 51v11M146 81v1M146 91v1M146 211v33M146 342v1M146 473v1M146 542v1M146 551v2M146 557v2M146 580v1M146 588v2M146 618v1M147 45v2M147 81v1M147 189v1M147 192v2M147 196v2M147 200v2M147 204v2M147 208v2M147 212v2M147 216v2M147 220v2M147 470v2M147 497v2M147 542v2M147 551v3M147 556v3M147 580v1M147 587v3M147 616v3M148 44v1M148 68v11M148 81v1M148 91v1M148 189v33M148 342v1M148 473v1M148 496v3M148 543v2M148 552v6M148 580v1M148 586v4M148 613v4M149 44v1M149 55v7M149 73v1M149 86v11M149 206v46M149 473v1M149 495v2M149 498v1M149 580v1M149 584v3M149 588v2M149 610v5M150 20v19M150 44v1M150 53v6M150 60v2M150 73v1M150 249v30M150 473v1M150 493v3M150 498v1M150 580v1M150 583v3M150 588v2M150 608v4M150 614v1M151 21v3M151 30v3M151 53v2M151 61v1M151 73v1M151 275v2M151 279v2M151 283v2M151 287v2M151 291v2M151 492v3M151 498v1M151 541v1M151 580v1M151 582v2M151 588v2M151 606v3M151 614v1M152 21v2M152 31v2M152 44v1M152 51v2M152 56v1M152 60v2M152 73v1M152 90v2M152 213v80M152 473v1M152 490v3M152 498v1M152 541v1M152 580v3M152 588v2M152 606v4M152 614v1M153 20v2M153 32v1M153 44v1M153 51v1M153 56v1M153 59v3M153 73v1M153 89v2M153 94v3M153 207v17M153 473v1M153 489v3M153 498v1M153 541v1M153 580v2M153 588v2M153 608v4M153 614v1M154 20v2M154 32v1M154 44v1M154 51v2M154 55v5M154 73v1M154 89v8M154 213v39M154 473v1M154 489v15M154 541v1M154 611v4M155 20v2M155 32v1M155 44v1M155 51v7M155 68v11M155 89v5M155 208v44M155 473v1M155 498v1M155 541v1M155 614v4M156 20v2M156 32v1M156 44v1M156 90v2M156 213v44M156 473v1M156 498v1M156 541v1M156 616v3M157 21v2M157 31v2M157 44v1M157 89v2M157 99v1M157 244v13M157 473v1M157 498v1M157 541v19M158 21v3M158 30v2M158 74v1M158 89v1M158 97v2M158 220v2M158 224v2M158 228v2M158 232v2M158 236v2M158 240v2M158 244v2M158 248v2M158 252v2M158 256v2M158 260v1M158 263v2M158 541v1M159 22v4M159 28v3M159 44v1M159 72v7M159 89v9M159 219v26M159 473v1M159 541v1M160 24v6M160 44v5M160 72v1M160 75v1M160 78v1M160 90v4M160 219v13M160 469v5M160 493v6M160 541v1M161 44v1M161 51v11M161 72v1M161 75v1M161 78v1M161 200v27M161 473v1M161 490v5M161 497v5M161 541v1M162 44v1M162 56v2M162 72v1M162 75v1M162 78v1M162 210v61M162 473v1M162 489v3M162 500v3M162 541v1M163 44v1M163 55v2M163 72v2M163 75v1M163 77v2M163 259v158M163 473v1M163 489v1M163 502v1M163 541v1M164 54v1M164 57v1M164 73v2M164 77v1M164 86v1M164 89v2M164 93v2M164 307v2M164 311v2M164 315v2M164 319v2M164 323v2M164 327v2M164 331v2M164 335v2M164 339v2M164 343v2M164 347v2M164 351v2M164 355v2M164 359v2M164 363v2M164 367v2M164 371v2M164 375v2M164 379v2M164 383v2M164 387v2M164 391v2M164 395v2M164 399v2M164 403v1M164 406v2M164 410v2M164 414v2M164 489v1M164 502v2M164 558v2M165 23v8M165 44v1M165 53v2M165 57v3M165 86v11M165 225v6M165 270v59M165 473v1M165 489v1M165 502v2M165 555v5M166 22v5M166 29v3M166 44v1M166 52v2M166 58v3M166 91v1M166 206v67M166 473v1M166 489v1M166 502v2M166 553v4M167 21v2M167 25v2M167 30v3M167 44v1M167 51v2M167 60v2M167 68v11M167 91v1M167 206v25M167 270v69M167 473v1M167 489v1M167 502v1M167 550v4M167 581v1M167 585v1M168 21v1M168 25v2M168 31v2M168 300v1M168 303v2M168 307v2M168 311v2M168 315v2M168 319v2M168 323v2M168 327v2M168 331v2M168 335v2M168 339v2M168 343v2M168 347v2M168 351v2M168 355v2M168 359v2M168 363v2M168 367v2M168 371v2M168 375v2M168 379v2M168 383v2M168 387v2M168 391v2M168 489v3M168 500v3M168 547v5M168 553v1M168 581v1M168 585v1M169 20v2M169 25v2M169 32v1M169 44v1M169 91v1M169 190v168M169 473v1M169 491v11M169 545v4M169 553v1M169 581v1M169 585v1M169 611v1M169 615v1M170 20v2M170 25v2M170 32v1M170 44v1M170 91v1M170 168v29M170 473v1M170 494v4M170 542v5M170 553v1M170 581v1M170 585v1M170 611v1M170 615v1M171 20v2M171 25v2M171 32v1M171 44v1M171 86v11M171 160v14M171 473v1M171 541v3M171 553v1M171 581v1M171 585v1M171 611v1M171 615v1M172 20v2M172 25v2M172 31v2M172 44v10M172 157v17M172 464v10M172 542v5M172 553v1M172 581v1M172 585v1M172 611v1M172 615v1M173 21v2M173 25v2M173 31v2M173 44v1M173 150v21M173 473v1M173 494v4M173 545v4M173 553v1M173 581v1M173 585v1M173 611v1M173 615v1M174 22v5M174 30v2M174 44v1M174 69v4M174 77v2M174 149v4M174 473v1M174 491v11M174 547v5M174 553v1M174 581v1M174 585v1M174 611v1M174 615v1M175 23v4M175 30v1M175 44v1M175 69v1M175 72v2M175 78v1M175 139v15M175 473v1M175 489v3M175 500v3M175 550v5M175 581v1M175 585v1M175 611v1M175 615v1M176 44v1M176 68v2M176 73v1M176 78v1M176 140v28M176 473v1M176 489v1M176 502v1M176 553v4M176 581v1M176 585v1M176 611v1M176 615v1M177 44v1M177 51v11M177 68v1M177 73v1M177 78v1M177 136v38M177 473v1M177 489v1M177 502v2M177 555v5M177 581v1M177 585v1M177 611v1M177 615v1M178 44v1M178 56v1M178 68v2M178 73v2M178 78v1M178 141v34M178 473v1M178 489v1M178 502v2M178 558v2M178 581v1M178 585v1M178 611v1M178 615v1M179 44v1M179 56v1M179 69v1M179 74v1M179 78v1M179 141v9M179 473v1M179 489v1M179 502v2M179 611v1M179 615v1M180 23v8M180 44v1M180 56v1M180 69v2M180 74v5M180 142v21M180 473v1M180 489v1M180 502v1M180 611v1M180 615v1M181 22v3M181 29v3M181 140v2M181 144v2M181 148v2M181 152v2M181 156v2M181 160v2M181 164v2M181 168v1M181 489v3M181 500v3M181 541v19M182 21v2M182 30v3M182 44v1M182 56v1M182 137v32M182 473v1M182 490v5M182 497v5M182 541v19M183 21v1M183 31v2M183 44v1M183 56v1M183 110v32M183 473v1M183 493v6M183 541v1M183 549v2M184 20v2M184 32v1M184 44v1M184 51v11M184 68v11M184 113v68M184 473v1M184 541v1M184 549v2M185 20v2M185 32v1M185 45v2M185 117v2M185 120v2M185 124v2M185 128v2M185 132v2M185 136v2M185 140v2M185 144v2M185 148v2M185 152v2M185 156v2M185 160v2M185 164v2M185 168v2M185 172v2M185 176v2M185 180v2M185 470v2M185 541v1M185 549v2M186 20v2M186 32v1M186 44v1M186 117v23M186 473v1M186 494v4M186 541v1M186 549v2M187 20v2M187 31v2M187 44v1M187 56v5M187 68v11M187 117v23M187 473v1M187 491v10M187 541v1M187 549v2M188 21v2M188 31v2M188 44v1M188 55v4M188 60v2M188 68v11M188 135v21M188 473v1M188 489v3M188 500v3M188 541v1M188 549v3M189 22v2M189 30v2M189 44v1M189 54v2M189 61v1M189 118v38M189 473v1M189 489v2M189 502v1M189 541v2M189 549v5M190 23v1M190 30v1M190 44v1M190 50v6M190 61v1M190 120v25M190 473v1M190 489v1M190 502v2M190 541v2M190 549v1M190 552v4M191 44v1M191 50v2M191 53v3M191 59v3M191 128v10M191 473v1M191 489v1M191 502v2M191 541v2M191 548v2M191 554v3M192 44v1M192 51v2M192 54v7M192 110v28M192 473v1M192 489v1M192 502v2M192 542v2M192 547v3M192 556v3M192 583v1M193 44v1M193 51v2M193 56v3M193 110v46M193 473v1M193 489v1M193 502v1M193 543v6M193 557v3M193 583v1M193 616v1M194 44v1M194 129v29M194 473v1M194 489v3M194 501v2M194 583v1M194 606v1M194 616v3M195 25v1M195 44v1M195 128v14M195 473v1M195 490v5M195 497v5M195 583v1M195 606v1M195 618v1M196 25v1M196 44v1M196 126v18M196 473v1M196 493v6M196 583v1M196 606v1M196 618v1M197 25v1M197 44v5M197 135v21M197 469v5M197 583v1M197 606v1M197 610v2M197 618v1M198 25v1M198 44v1M198 123v29M198 473v1M198 583v1M198 606v1M198 609v3M198 618v1M199 25v1M199 44v1M199 123v17M199 473v1M199 583v1M199 606v1M199 608v4M199 618v1M200 25v1M200 44v1M200 128v57M200 473v1M200 583v1M200 606v3M200 610v2M200 617v2M201 25v1M201 44v1M201 135v39M201 473v1M201 583v1M201 606v2M201 611v3M201 615v3M202 25v1M202 44v1M202 139v14M202 473v1M202 583v1M202 613v3M203 25v1M203 44v1M203 139v22M203 473v1M203 583v1M204 25v1M204 44v1M204 142v14M204 473v1M205 25v1M205 44v1M205 130v26M205 473v1M205 614v1M206 25v1M206 44v1M206 89v5M206 143v33M206 473v1M206 612v3M207 25v1M207 44v1M207 54v5M207 68v11M207 87v3M207 93v3M207 149v20M207 473v1M207 611v2M207 614v1M208 25v1M208 44v1M208 52v3M208 58v3M208 73v1M208 86v2M208 95v2M208 160v30M208 473v1M208 609v3M208 614v1M209 25v1M209 44v1M209 51v2M209 60v2M209 73v1M209 86v1M209 96v1M209 175v73M209 473v1M209 578v1M209 608v3M209 614v1M210 25v1M210 45v2M210 61v1M210 73v1M210 86v1M210 240v2M210 244v2M210 248v2M210 252v2M210 256v2M210 470v2M210 577v2M210 607v2M210 614v1M211 25v1M211 44v1M211 51v1M211 61v1M211 73v1M211 86v1M211 92v1M211 96v1M211 118v142M211 473v1M211 576v2M211 606v13M212 44v1M212 51v1M212 61v1M212 73v1M212 86v2M212 92v1M212 95v2M212 104v72M212 473v1M212 576v14M212 614v1M213 44v1M213 51v2M213 60v2M213 68v11M213 87v2M213 92v4M213 103v73M213 473v1M213 614v1M214 44v1M214 52v3M214 58v3M214 103v77M214 473v1M214 614v1M215 53v2M215 57v2M215 113v2M215 117v2M215 120v2M215 124v2M215 128v2M215 132v2M215 136v2M215 140v2M215 144v2M215 148v2M215 152v2M215 156v2M215 160v2M215 164v2M215 168v2M215 172v2M215 176v2M215 180v1M216 29v1M216 44v1M216 72v2M216 112v28M216 473v1M217 18v5M217 29v3M217 73v1M217 113v2M217 117v2M217 120v2M217 124v2M217 128v2M217 132v2M217 136v2M217 140v2M217 608v4M218 15v8M218 31v2M218 44v1M218 51v11M218 72v1M218 81v2M218 111v31M218 473v1M218 607v6M218 616v3M219 15v1M219 21v1M219 31v2M219 44v1M219 72v1M219 79v4M219 123v21M219 473v1M219 578v9M219 606v2M219 612v2M219 618v1M220 15v1M220 20v2M220 32v1M220 44v1M220 72v8M220 125v44M220 473v1M220 577v3M220 586v3M220 606v1M220 613v1M220 618v1M221 15v1M221 20v2M221 32v1M221 44v1M221 74v4M221 120v28M221 473v1M221 576v2M221 588v1M221 606v1M221 613v2M221 618v1M222 15v1M222 20v2M222 32v1M222 44v5M222 51v11M222 74v3M222 120v11M222 469v5M222 576v1M222 588v2M222 606v1M222 613v1M222 618v1M223 15v1M223 20v2M223 32v1M223 44v1M223 72v4M223 99v32M223 473v1M223 576v1M223 588v2M223 606v2M223 612v2M223 617v2M224 15v1M224 21v1M224 32v1M224 44v1M224 72v2M224 95v17M224 473v1M224 576v1M224 588v2M224 606v3M224 611v3M224 615v3M225 15v1M225 21v2M225 31v2M225 44v1M225 96v18M225 473v1M225 576v2M225 588v1M225 607v10M226 15v1M226 21v3M226 30v3M226 44v1M226 51v11M226 101v15M226 473v1M226 576v3M226 586v3M227 15v1M227 22v3M227 29v3M227 44v1M227 95v19M227 473v1M227 578v9M228 23v8M228 44v1M228 99v15M228 473v1M229 44v1M229 103v18M229 473v1M230 44v1M230 100v20M230 473v1M230 617v2M231 44v1M231 76v27M231 473v1M231 578v5M231 587v1M231 617v2M232 44v1M232 76v17M232 473v1M232 577v2M232 582v2M232 587v2M233 15v1M233 44v1M233 81v7M233 473v1M233 576v2M233 583v1M233 588v1M234 15v1M234 44v1M234 72v16M234 473v1M234 576v1M234 583v2M234 588v2M235 15v1M235 44v5M235 61v15M235 469v5M235 576v1M235 583v2M235 588v2M236 15v1M236 32v1M236 44v1M236 62v15M236 473v1M236 576v2M236 583v2M236 588v1M237 15v1M237 30v3M237 44v1M237 73v19M237 473v1M237 576v2M237 582v2M237 587v2M237 608v1M238 15v1M238 28v3M238 44v1M238 84v22M238 473v1M238 546v9M238 577v11M238 607v2M239 15v1M239 25v4M239 44v1M239 72v34M239 473v1M239 544v4M239 553v4M239 579v6M239 606v2M240 15v1M240 23v4M240 44v1M240 72v23M240 473v1M240 543v2M240 555v3M240 606v13M241 15v1M241 21v4M241 44v1M241 77v18M241 473v1M241 542v2M241 557v2M242 15v1M242 19v4M242 44v1M242 66v18M242 473v1M242 541v2M242 558v1M243 15v1M243 17v4M243 44v1M243 70v7M243 473v1M243 541v1M243 558v2M243 588v1M244 15v4M244 44v1M244 65v20M244 473v1M244 541v1M244 558v2M244 587v3M245 15v2M245 44v1M245 75v13M245 473v1M245 541v1M245 558v2M245 588v1M246 44v1M246 71v7M246 473v1M246 541v1M246 552v1M246 558v2M247 44v5M247 69v7M247 469v5M247 541v2M247 552v1M247 558v2M247 613v2M248 44v1M248 60v12M248 473v1M248 542v2M248 552v1M248 557v2M248 612v3M249 44v1M249 61v9M249 473v1M249 542v3M249 552v1M249 556v2M249 578v5M249 587v1M249 611v2M249 614v1M250 18v2M250 31v2M250 44v1M250 57v10M250 473v1M250 543v3M250 552v5M250 577v2M250 582v2M250 587v2M250 609v3M250 614v1M251 16v4M251 30v3M251 44v1M251 56v8M251 473v1M251 545v1M251 552v4M251 576v2M251 583v2M251 588v1M251 608v2M251 614v1M252 15v3M252 29v4M252 44v1M252 53v12M252 473v1M252 576v1M252 583v2M252 588v2M252 606v3M252 614v1M253 15v2M253 28v3M253 32v1M253 44v1M253 55v12M253 473v1M253 576v1M253 583v2M253 588v2M253 606v13M254 15v1M254 27v3M254 32v1M254 44v23M254 473v1M254 576v2M254 583v2M254 588v1M254 614v1M255 15v1M255 26v3M255 32v1M255 44v29M255 473v1M255 555v2M255 576v2M255 582v2M255 587v2M255 614v1M256 15v1M256 25v3M256 32v1M256 44v1M256 53v20M256 473v1M256 555v3M256 577v11M256 614v1M257 15v1M257 24v3M257 32v1M257 44v1M257 53v12M257 473v1M257 541v1M257 557v2M257 579v6M258 15v2M258 23v3M258 32v1M258 44v1M258 50v9M258 473v1M258 541v1M258 558v1M259 15v2M259 22v3M259 32v1M259 44v1M259 50v14M259 473v1M259 541v1M259 558v2M259 616v2M260 16v7M260 32v1M260 44v5M260 61v11M260 469v5M260 541v1M260 558v2M260 606v6M260 616v3M261 18v3M261 32v1M261 44v1M261 49v23M261 473v1M261 541v1M261 547v2M261 558v2M261 606v1M261 610v1M261 618v1M262 32v1M262 44v1M262 47v7M262 473v1M262 541v1M262 546v3M262 558v2M262 606v1M262 610v1M262 618v1M263 44v1M263 49v15M263 473v1M263 541v1M263 544v3M263 548v1M263 558v2M263 606v1M263 610v1M263 618v1M264 44v1M264 53v10M264 473v1M264 541v1M264 543v3M264 548v1M264 558v1M264 606v1M264 610v1M264 618v1M265 44v1M265 48v7M265 473v1M265 541v4M265 548v2M265 557v2M265 606v1M265 610v1M265 618v1M266 26v4M266 44v1M266 48v9M266 473v1M266 541v2M266 548v4M266 555v3M266 606v1M266 610v2M266 617v2M267 16v5M267 24v8M267 44v1M267 55v16M267 473v1M267 550v7M267 611v7M268 15v3M268 19v3M268 23v3M268 31v2M268 44v1M268 54v17M268 473v1M268 613v3M269 15v2M269 21v1M269 23v2M269 31v2M269 44v1M269 50v8M269 473v1M270 15v1M270 21v3M270 32v1M270 44v1M270 52v15M270 473v1M271 15v1M271 21v3M271 32v1M271 44v1M271 50v17M271 86v11M271 473v1M271 583v1M271 588v2M271 616v2M272 15v1M272 22v1M272 32v1M272 44v5M272 51v10M272 86v11M272 469v5M272 500v2M272 583v1M272 588v2M272 606v1M272 616v3M273 15v1M273 22v2M273 32v1M273 44v1M273 50v9M273 91v1M273 473v1M273 489v7M273 500v3M273 583v1M273 588v2M273 606v1M273 618v1M274 15v1M274 21v3M274 32v1M274 44v1M274 47v7M274 91v1M274 473v1M274 489v2M274 494v1M274 502v1M274 583v1M274 588v2M274 606v1M274 618v1M275 15v1M275 21v3M275 32v1M275 44v1M275 50v10M275 91v1M275 473v1M275 489v1M275 493v2M275 502v2M275 583v1M275 588v2M275 606v1M275 610v2M275 618v1M276 15v2M276 20v2M276 23v2M276 31v2M276 44v1M276 55v9M276 91v1M276 473v1M276 489v1M276 493v1M276 502v2M276 578v12M276 606v1M276 609v3M276 618v1M277 15v7M277 24v3M277 30v3M277 44v1M277 57v7M277 91v1M277 473v1M277 489v1M277 493v1M277 502v2M277 583v1M277 588v2M277 606v6M277 618v1M278 25v6M278 44v1M278 57v44M278 473v1M278 489v1M278 493v2M278 502v2M278 583v1M278 588v2M278 606v3M278 611v1M278 617v2M279 44v1M279 63v70M279 473v1M279 489v1M279 494v1M279 502v1M279 583v1M279 588v2M279 606v1M279 611v7M280 62v1M280 65v2M280 69v2M280 73v2M280 77v2M280 81v2M280 85v2M280 89v2M280 93v2M280 97v2M280 101v2M280 105v2M280 109v2M280 113v2M280 117v2M280 120v2M280 124v2M280 128v2M280 132v2M280 136v1M280 489v1M280 494v2M280 501v2M280 583v1M280 588v2M280 613v3M281 44v1M281 66v12M281 95v5M281 473v1M281 495v7M281 583v1M281 588v2M282 44v1M282 66v11M282 90v10M282 473v1M282 497v3M283 15v1M283 44v1M283 65v19M283 88v5M283 94v2M283 473v1M283 608v4M284 15v1M284 44v1M284 48v23M284 77v2M284 87v4M284 95v2M284 473v1M284 607v2M284 611v3M284 616v3M285 15v1M285 44v5M285 54v16M285 78v1M285 86v2M285 90v1M285 96v1M285 469v5M285 493v6M285 606v2M285 612v2M285 618v1M286 15v1M286 32v1M286 44v1M286 60v13M286 78v1M286 86v1M286 90v2M286 95v2M286 473v1M286 490v5M286 497v5M286 606v1M286 613v1M286 618v1M287 15v1M287 30v3M287 44v1M287 53v26M287 86v1M287 89v7M287 473v1M287 489v3M287 500v3M287 606v1M287 613v2M287 618v1M288 15v1M288 28v3M288 44v1M288 52v19M288 77v2M288 86v5M288 92v3M288 473v1M288 489v1M288 502v1M288 606v1M288 613v1M288 618v1M289 15v1M289 25v4M289 44v1M289 52v27M289 87v3M289 473v1M289 489v1M289 502v2M289 606v2M289 612v2M289 617v2M290 15v1M290 23v4M290 44v1M290 51v2M290 57v20M290 473v1M290 489v1M290 502v2M290 607v3M290 611v2M290 614v4M291 15v1M291 21v4M291 44v1M291 51v1M291 60v18M291 473v1M291 489v1M291 502v2M291 608v8M292 15v1M292 19v4M292 61v2M292 65v2M292 69v2M292 489v1M292 502v1M293 15v1M293 17v4M293 44v1M293 51v1M293 61v18M293 473v1M293 489v3M293 500v3M294 15v4M294 44v1M294 51v2M294 59v21M294 473v1M294 491v11M294 580v3M294 585v3M295 15v2M295 44v1M295 52v3M295 58v3M295 62v15M295 473v1M295 494v4M295 576v7M295 585v4M296 44v1M296 53v6M296 60v20M296 473v1M296 576v2M296 580v2M296 585v2M296 588v1M296 617v5M297 44v10M297 58v21M297 464v10M297 576v2M297 580v1M297 588v2M297 617v4M298 70v1M298 73v2M298 77v2M298 81v2M298 85v2M298 89v2M298 494v4M298 576v2M298 580v1M298 588v2M299 44v1M299 51v11M299 66v24M299 473v1M299 491v11M299 576v2M299 580v1M299 588v2M300 25v1M300 44v1M300 63v10M300 473v1M300 489v3M300 500v3M300 576v1M300 580v2M300 588v1M301 25v1M301 44v1M301 68v11M301 473v1M301 489v1M301 502v1M301 576v1M301 581v2M301 586v3M302 25v1M302 44v1M302 61v37M302 473v1M302 489v1M302 502v2M302 576v1M302 581v7M303 25v1M303 44v1M303 51v11M303 67v13M303 473v1M303 489v1M303 502v2M303 583v4M304 25v1M304 44v1M304 60v10M304 473v1M304 489v1M304 502v2M305 25v1M305 44v1M305 58v13M305 473v1M305 489v1M305 502v1M306 25v1M306 44v1M306 57v20M306 473v1M306 489v3M306 500v3M307 25v1M307 44v1M307 51v11M307 67v19M307 473v1M307 490v5M307 497v5M307 587v3M308 25v1M308 44v1M308 57v18M308 473v1M308 493v6M308 587v3M309 25v1M309 44v1M309 57v13M309 473v1M310 25v1M310 44v5M310 67v8M310 86v11M310 469v5M311 25v1M311 44v1M311 57v20M311 86v11M311 473v1M311 494v4M311 606v13M312 25v1M312 44v1M312 57v25M312 88v4M312 473v1M312 491v10M312 580v3M312 585v3M312 606v1M312 618v1M313 25v1M313 44v1M313 73v10M313 91v4M313 473v1M313 489v3M313 500v3M313 576v7M313 585v4M313 606v1M313 618v1M314 25v1M314 44v1M314 74v15M314 94v3M314 473v1M314 489v2M314 502v1M314 576v2M314 580v2M314 586v1M314 588v1M314 606v1M314 618v1M315 25v1M315 44v1M315 70v20M315 92v4M315 473v1M315 489v1M315 502v2M315 576v2M315 580v1M315 588v2M315 606v1M315 618v1M316 25v1M316 44v1M316 67v19M316 90v4M316 473v1M316 489v1M316 502v2M316 576v2M316 580v1M316 588v2M316 606v1M316 618v1M317 44v1M317 67v24M317 473v1M317 489v1M317 502v2M317 576v2M317 580v1M317 588v2M317 606v2M317 617v2M318 44v1M318 79v49M318 473v1M318 489v1M318 502v1M318 576v1M318 580v2M318 588v1M318 606v3M318 616v2M319 85v2M319 89v2M319 93v2M319 97v2M319 101v2M319 105v2M319 109v2M319 489v3M319 501v2M319 576v1M319 581v2M319 586v3M319 607v4M319 614v3M320 44v1M320 74v22M320 473v1M320 490v5M320 497v5M320 581v7M320 610v5M321 44v1M321 78v13M321 92v2M321 473v1M321 493v6M321 583v3M322 15v18M322 44v5M322 76v20M322 469v5M323 15v1M323 23v1M323 32v1M323 44v1M323 73v13M323 89v2M323 95v2M323 99v1M323 473v1M324 15v1M324 23v1M324 32v1M324 44v1M324 66v14M324 89v1M324 96v1M324 99v1M324 473v1M324 606v13M325 15v1M325 23v1M325 32v1M325 44v1M325 66v9M325 89v1M325 96v1M325 99v1M325 473v1M325 606v1M325 612v1M325 618v1M326 15v1M326 23v1M326 32v1M326 44v1M326 68v6M326 89v2M326 95v2M326 98v2M326 473v1M326 606v1M326 612v1M326 618v1M327 15v1M327 23v1M327 32v1M327 44v1M327 62v12M327 89v10M327 473v1M327 606v1M327 612v1M327 618v1M328 15v1M328 23v1M328 32v1M328 44v1M328 62v13M328 473v1M328 606v1M328 612v1M328 618v1M329 15v1M329 23v1M329 32v1M329 44v1M329 62v9M329 473v1M329 606v1M329 612v1M329 618v1M330 15v1M330 32v1M330 44v1M330 67v36M330 473v1M330 606v1M330 618v1M331 15v1M331 32v1M331 44v1M331 70v5M331 473v1M331 606v1M331 618v1M332 15v1M332 32v1M332 44v1M332 65v9M332 473v1M332 606v1M332 618v1M333 15v1M333 32v1M333 44v1M333 53v18M333 473v1M333 576v1M333 588v2M334 44v1M334 53v15M334 473v1M334 576v1M334 588v2M334 610v4M335 44v5M335 55v7M335 469v5M335 576v14M335 608v9M336 44v1M336 55v16M336 473v1M336 576v14M336 607v2M336 616v2M337 20v8M337 44v1M337 60v28M337 473v1M337 584v2M337 588v2M337 606v2M337 617v2M338 18v4M338 26v4M338 44v1M338 66v22M338 473v1M338 583v3M338 606v1M338 618v1M339 16v3M339 29v3M339 44v1M339 66v9M339 473v1M339 582v5M339 606v1M339 618v1M340 15v3M340 30v3M340 44v1M340 66v4M340 473v1M340 580v3M340 585v5M340 606v1M340 618v1M341 15v2M341 31v2M341 44v1M341 55v15M341 473v1M341 580v2M341 586v4M341 606v1M341 618v1M342 15v1M342 32v1M342 44v1M342 55v22M342 473v1M342 580v1M342 588v2M342 606v2M342 617v2M343 15v1M343 32v1M343 44v1M343 68v9M343 473v1M343 580v1M343 588v2M343 607v3M343 615v3M344 15v1M344 32v1M344 44v1M344 59v16M344 473v1M344 608v2M344 615v2M345 15v1M345 25v2M345 32v1M345 44v1M345 62v15M345 473v1M346 15v1M346 25v2M346 32v1M346 44v1M346 63v16M346 473v1M346 580v1M346 588v2M347 15v2M347 25v2M347 31v2M347 44v5M347 74v8M347 469v5M347 580v10M348 16v2M348 25v2M348 30v2M348 44v1M348 70v12M348 473v1M348 580v10M349 17v3M349 25v2M349 28v3M349 44v1M349 68v6M349 473v1M349 581v2M349 588v2M350 18v2M350 25v5M350 44v1M350 68v5M350 473v1M350 580v2M350 588v2M351 44v1M351 69v9M351 473v1M351 580v1M352 44v1M352 57v16M352 473v1M352 580v1M352 588v2M353 44v1M353 61v12M353 473v1M353 580v2M353 588v2M354 44v1M354 61v8M354 473v1M354 580v10M355 18v2M355 31v2M355 44v1M355 61v8M355 473v1M355 581v9M356 16v4M356 30v3M356 44v1M356 61v13M356 473v1M356 580v2M356 588v2M357 15v3M357 29v4M357 44v1M357 64v10M357 473v1M357 580v2M357 588v2M357 611v1M357 615v1M358 15v2M358 28v3M358 32v1M358 44v1M358 63v3M358 473v1M358 580v1M358 611v1M358 615v1M359 15v1M359 27v3M359 32v1M359 44v1M359 63v5M359 473v1M359 580v2M359 588v2M359 611v1M359 615v1M360 15v1M360 26v3M360 32v1M360 44v5M360 65v3M360 469v5M360 580v3M360 588v2M360 611v1M360 615v1M361 15v1M361 25v3M361 32v1M361 44v1M361 64v4M361 473v1M361 581v9M361 611v1M361 615v1M362 15v1M362 24v3M362 32v1M362 44v1M362 59v9M362 473v1M362 588v2M362 611v1M362 615v1M363 15v2M363 23v3M363 32v1M363 44v1M363 61v13M363 473v1M363 588v2M363 611v1M363 615v1M364 15v2M364 21v4M364 32v1M364 44v1M364 60v8M364 473v1M364 611v1M364 615v1M365 16v7M365 32v1M365 44v1M365 58v4M365 473v1M365 592v2M365 611v1M365 615v1M366 18v3M366 32v1M366 44v1M366 58v6M366 473v1M366 591v3M366 611v1M366 615v1M367 32v1M367 44v1M367 61v9M367 473v1M367 589v3M367 611v1M367 615v1M368 44v1M368 68v3M368 473v1M368 587v3M368 611v1M368 615v1M369 44v1M369 69v4M369 473v1M369 585v3M370 44v1M370 70v9M370 473v1M370 584v3M371 29v1M371 44v1M371 68v11M371 473v1M371 582v3M372 29v3M372 44v5M372 68v10M372 469v5M372 580v3M373 15v1M373 31v2M373 44v1M373 60v13M373 473v1M373 578v3M374 15v1M374 31v2M374 44v1M374 62v11M374 473v1M374 576v4M375 15v1M375 32v1M375 44v1M375 57v12M375 473v1M375 575v3M376 15v1M376 32v1M376 44v1M376 57v8M376 473v1M376 573v3M377 15v1M377 21v2M377 32v1M377 44v1M377 62v5M377 473v1M378 15v1M378 19v4M378 32v1M378 44v1M378 63v4M378 473v1M379 15v1M379 18v5M379 32v1M379 44v1M379 64v14M379 473v1M379 581v3M379 586v4M380 15v1M380 17v3M380 21v2M380 31v2M380 44v1M380 64v14M380 473v1M380 580v5M380 586v3M381 15v3M381 22v2M381 30v3M381 44v1M381 60v7M381 473v1M381 580v1M381 583v2M381 588v2M382 15v2M382 22v3M382 28v4M382 44v1M382 60v9M382 473v1M382 580v1M382 583v2M382 588v2M383 23v8M383 44v1M383 65v4M383 473v1M383 580v1M383 584v2M383 588v2M384 44v1M384 65v5M384 473v1M384 580v2M384 584v2M384 588v2M385 44v5M385 67v14M385 469v5M385 581v2M385 584v3M385 588v1M386 44v1M386 66v15M386 473v1M386 580v4M386 585v4M387 44v1M387 61v8M387 473v1M388 32v1M388 44v1M388 59v5M388 473v1M389 17v3M389 31v2M389 44v1M389 59v6M389 473v1M390 15v3M390 30v3M390 44v1M390 62v6M390 473v1M391 15v2M391 29v2M391 32v1M391 44v1M391 65v8M391 473v1M391 618v1M392 15v1M392 28v2M392 32v1M392 44v1M392 66v7M392 473v1M392 607v3M392 617v2M393 15v1M393 27v2M393 32v1M393 44v1M393 64v6M393 473v1M393 606v2M393 616v3M394 15v1M394 26v2M394 32v1M394 44v1M394 64v11M394 473v1M394 606v1M394 615v2M394 618v1M395 15v1M395 25v2M395 32v1M395 44v1M395 69v6M395 473v1M395 515v1M395 606v1M395 614v2M395 618v1M396 15v1M396 23v3M396 32v1M396 44v1M396 67v6M396 473v1M396 515v6M396 606v1M396 613v2M396 618v1M397 15v2M397 22v3M397 32v1M397 44v5M397 64v6M397 469v5M397 518v7M397 606v1M397 612v2M397 618v1M398 16v3M398 20v4M398 32v1M398 44v1M398 65v4M398 473v1M398 491v11M398 523v6M398 606v2M398 611v2M398 618v1M399 17v5M399 32v1M399 44v1M399 65v4M399 473v1M399 490v3M399 495v2M399 500v3M399 525v5M399 607v5M399 618v1M400 32v1M400 44v1M400 63v5M400 473v1M400 489v2M400 494v2M400 501v2M400 521v6M400 618v1M401 44v1M401 63v16M401 473v1M401 489v1M401 494v2M401 502v1M401 517v6M402 44v1M402 67v7M402 473v1M402 489v1M402 494v1M402 502v2M402 515v4M403 44v1M403 68v9M403 473v1M403 489v1M403 494v1M403 502v2M403 516v6M404 44v1M404 68v11M404 473v1M404 489v1M404 494v2M404 502v1M404 520v6M404 608v9M405 44v1M405 68v3M405 74v2M405 77v2M405 473v1M405 489v2M405 495v2M405 501v2M405 524v6M405 607v3M405 611v3M405 615v3M406 44v1M406 67v4M406 75v5M406 473v1M406 490v2M406 496v6M406 524v6M406 606v2M406 611v1M406 617v2M407 18v1M407 44v1M407 68v17M407 473v1M407 498v2M407 519v7M407 606v1M407 610v2M407 618v1M408 17v2M408 44v1M408 68v64M408 473v1M408 515v6M408 606v1M408 610v2M408 618v1M409 16v3M409 109v2M409 113v2M409 117v2M409 120v2M409 124v2M409 128v2M409 515v2M409 606v1M409 610v2M409 618v1M410 15v3M410 44v5M410 70v38M410 469v5M410 493v6M410 606v1M410 611v2M410 617v2M411 15v18M411 44v1M411 72v6M411 473v1M411 490v5M411 497v5M411 606v3M411 611v3M411 615v3M412 15v18M412 44v1M412 72v2M412 75v4M412 473v1M412 489v3M412 500v3M412 521v7M412 613v4M413 44v1M413 72v1M413 77v4M413 473v1M413 489v1M413 502v1M413 520v3M413 526v3M414 44v1M414 72v1M414 78v1M414 80v2M414 473v1M414 489v1M414 502v2M414 520v2M414 527v2M415 44v1M415 72v1M415 78v1M415 81v4M415 473v1M415 489v1M415 502v2M415 519v2M415 528v2M416 44v1M416 72v2M416 77v2M416 85v4M416 473v1M416 489v1M416 502v2M416 519v2M416 529v1M416 617v2M417 44v1M417 72v7M417 85v3M417 473v1M417 489v1M417 502v1M417 519v2M417 528v2M417 617v2M418 44v1M418 84v6M418 473v1M418 489v3M418 500v3M418 519v2M418 528v2M419 44v1M419 88v2M419 473v1M419 491v11M419 520v2M419 527v2M420 44v1M420 88v5M420 473v1M420 494v4M420 519v11M421 29v1M421 44v1M421 87v5M421 473v1M421 614v1M422 18v5M422 29v3M422 44v10M422 89v3M422 464v10M422 612v3M423 15v8M423 31v2M423 44v1M423 89v4M423 473v1M423 494v4M423 611v4M424 15v1M424 21v1M424 31v2M424 44v1M424 90v4M424 473v1M424 491v11M424 519v3M424 610v2M424 614v1M425 15v1M425 20v2M425 32v1M425 44v1M425 88v6M425 473v1M425 489v3M425 500v3M425 521v4M425 608v3M425 614v1M426 15v1M426 20v2M426 32v1M426 44v1M426 85v4M426 473v1M426 489v1M426 502v1M426 523v4M426 607v2M426 614v1M427 15v1M427 20v2M427 32v1M427 44v1M427 84v3M427 473v1M427 489v1M427 502v2M427 525v4M427 606v13M428 15v1M428 20v2M428 32v1M428 44v1M428 84v6M428 473v1M428 489v1M428 502v2M428 527v3M428 606v13M429 15v1M429 21v1M429 32v1M429 44v1M429 87v3M429 473v1M429 489v1M429 502v2M429 525v3M429 614v1M430 15v1M430 21v2M430 31v2M430 44v1M430 89v3M430 473v1M430 489v1M430 502v1M430 522v4M430 614v1M431 15v1M431 21v3M431 30v3M431 44v1M431 91v2M431 473v1M431 489v3M431 500v3M431 520v4M432 15v1M432 22v3M432 28v4M432 44v1M432 91v4M432 473v1M432 490v5M432 497v5M432 519v2M433 23v7M433 44v1M433 92v4M433 473v1M433 493v6M434 44v1M434 94v4M434 473v1M435 44v5M435 95v2M435 469v5M435 522v5M435 608v1M436 44v1M436 96v6M436 473v1M436 494v4M436 521v4M436 526v3M436 607v2M437 44v1M437 99v4M437 473v1M437 491v10M437 520v2M437 523v2M437 527v2M437 606v2M438 25v6M438 44v1M438 101v3M438 473v1M438 489v3M438 500v3M438 519v2M438 523v2M438 528v2M438 606v13M439 16v5M439 24v3M439 29v3M439 44v1M439 102v11M439 473v1M439 489v2M439 502v1M439 519v2M439 523v2M439 529v1M440 15v2M440 20v2M440 23v2M440 31v2M440 44v1M440 106v7M440 473v1M440 489v1M440 502v2M440 519v2M440 523v2M440 529v1M441 15v1M441 21v3M441 31v2M441 44v1M441 103v5M441 473v1M441 489v1M441 502v2M441 519v2M441 523v2M441 528v2M442 15v1M442 21v3M442 32v1M442 44v1M442 107v9M442 473v1M442 489v1M442 502v2M442 520v2M442 523v2M442 527v2M443 15v1M443 21v3M443 32v1M443 44v1M443 104v10M443 473v1M443 489v1M443 502v1M443 521v4M443 527v1M444 15v1M444 22v1M444 32v1M444 44v1M444 102v2M444 473v1M444 489v3M444 501v2M445 15v1M445 21v3M445 32v1M445 44v1M445 101v3M445 473v1M445 490v5M445 497v5M445 606v1M446 15v1M446 21v3M446 32v1M446 44v1M446 100v2M446 473v1M446 493v6M446 606v1M447 15v2M447 21v4M447 31v2M447 44v5M447 100v4M447 469v5M447 515v15M447 606v1M448 15v3M448 19v3M448 23v3M448 31v2M448 44v1M448 100v2M448 473v1M448 515v15M448 606v1M448 616v3M449 16v5M449 24v3M449 29v3M449 44v1M449 101v3M449 473v1M449 606v1M449 614v4M450 26v5M450 44v1M450 103v4M450 473v1M450 606v1M450 612v4M451 44v1M451 104v3M451 473v1M451 606v1M451 610v4M452 44v1M452 102v3M452 473v1M452 522v5M452 606v1M452 608v3M453 44v1M453 104v4M453 473v1M453 521v7M453 606v3M454 44v1M454 53v6M454 106v3M454 473v1M454 520v2M454 523v2M454 527v2M454 606v1M455 15v18M455 44v1M455 52v3M455 58v3M455 106v3M455 473v1M455 519v2M455 523v2M455 528v2M456 15v18M456 44v1M456 51v2M456 60v2M456 106v4M456 473v1M456 519v2M456 523v2M456 529v1M457 16v3M457 44v1M457 51v1M457 61v1M457 109v11M457 473v1M457 519v2M457 523v2M457 529v1M457 608v4M458 17v3M458 44v1M458 51v1M458 61v1M458 111v9M458 473v1M458 519v2M458 523v2M458 528v2M458 607v6M458 616v3M459 19v3M459 44v1M459 51v1M459 61v1M459 108v8M459 473v1M459 520v2M459 523v2M459 527v2M459 606v2M459 612v2M459 617v2M460 20v3M460 45v2M460 61v1M460 113v2M460 470v2M460 521v4M460 527v2M460 606v1M460 613v1M460 618v1M461 22v3M461 44v1M461 52v3M461 58v3M461 88v6M461 109v4M461 473v1M461 606v1M461 613v2M461 618v1M462 23v3M462 44v1M462 54v5M462 87v2M462 93v3M462 110v3M462 473v1M462 606v1M462 613v2M462 618v1M463 25v3M463 44v1M463 86v2M463 95v2M463 111v3M463 473v1M463 606v1M463 613v1M463 617v2M464 26v3M464 44v1M464 86v1M464 96v1M464 109v4M464 473v1M464 606v3M464 611v3M464 615v4M465 28v3M465 44v1M465 51v11M465 86v1M465 96v1M465 109v2M465 473v1M465 519v11M465 607v10M466 29v3M466 44v1M466 86v1M466 95v2M466 109v2M466 473v1M466 520v3M467 15v18M467 86v1M467 110v1M467 520v2M468 44v1M468 87v3M468 92v4M468 109v3M468 473v1M468 519v2M469 44v1M469 89v5M469 109v3M469 473v1M469 519v2M469 616v1M470 44v1M470 110v3M470 473v1M470 519v2M470 606v1M470 616v3M471 44v1M471 110v7M471 473v1M471 520v2M471 606v1M471 618v1M472 44v5M472 86v11M472 115v3M472 469v5M472 520v10M472 606v1M472 618v1M473 32v1M473 44v1M473 114v5M473 473v1M473 606v1M473 610v1M473 618v1M474 17v3M474 31v2M474 44v1M474 114v3M474 473v1M474 606v1M474 609v3M474 618v1M475 15v3M475 30v3M475 44v1M475 113v2M475 473v1M475 606v1M475 608v4M475 618v1M476 15v2M476 29v2M476 32v1M476 44v1M476 113v3M476 473v1M476 606v3M476 610v2M476 617v2M477 15v1M477 28v2M477 32v1M477 44v1M477 114v4M477 473v1M477 521v7M477 606v2M477 611v3M477 615v3M478 15v1M478 27v2M478 32v1M478 44v1M478 116v2M478 473v1M478 520v2M478 527v2M478 613v3M479 15v1M479 26v2M479 32v1M479 44v1M479 117v4M479 473v1M479 520v1M479 528v2M479 533v1M480 15v1M480 25v2M480 32v1M480 44v1M480 120v3M480 473v1M480 519v2M480 528v2M480 533v1M481 15v1M481 23v3M481 32v1M481 44v1M481 121v4M481 473v1M481 519v2M481 529v1M481 533v1M482 15v2M482 22v3M482 32v1M482 44v1M482 125v3M482 473v1M482 519v2M482 528v2M482 533v1M483 16v3M483 20v4M483 32v1M483 44v1M483 51v11M483 68v11M483 127v7M483 473v1M483 520v1M483 528v2M483 532v2M484 17v5M484 32v1M484 44v1M484 56v1M484 70v2M484 126v12M484 473v1M484 519v15M485 32v1M485 44v5M485 56v1M485 71v3M485 113v14M485 469v5M485 519v13M486 44v1M486 56v1M486 73v2M486 114v14M486 473v1M487 44v1M487 56v1M487 74v3M487 117v11M487 473v1M488 44v1M488 56v1M488 76v2M488 86v11M488 116v3M488 473v1M488 519v2M489 44v1M489 56v1M489 68v11M489 87v3M489 116v3M489 473v1M489 519v2M490 22v6M490 53v2M490 57v2M490 61v1M490 89v2M490 118v1M490 120v2M490 124v2M490 128v1M490 515v12M491 18v13M491 44v1M491 90v3M491 128v18M491 473v1M491 515v14M492 16v3M492 23v2M492 29v3M492 93v1M492 145v1M492 148v2M492 152v2M492 156v2M492 160v2M492 164v2M492 168v2M492 172v2M492 176v2M492 180v1M492 519v2M492 528v2M493 15v3M493 22v2M493 31v2M493 44v1M493 57v5M493 68v11M493 93v3M493 137v44M493 473v1M493 519v2M493 529v1M494 15v2M494 22v1M494 31v2M494 44v1M494 55v7M494 86v11M494 122v16M494 473v1M494 529v1M495 15v1M495 21v2M495 32v1M495 61v1M495 121v1M496 15v1M496 21v2M496 32v1M496 44v1M496 54v2M496 61v1M496 121v3M496 473v1M497 15v1M497 21v2M497 32v1M497 44v5M497 54v2M497 60v2M497 68v11M497 122v2M497 469v5M498 15v1M498 22v1M498 31v2M498 44v1M498 54v4M498 59v2M498 86v11M498 123v3M498 473v1M498 515v15M499 15v2M499 22v2M499 31v2M499 44v1M499 55v6M499 123v3M499 473v1M499 520v3M500 15v3M500 23v2M500 29v3M500 44v1M500 55v3M500 59v3M500 125v2M500 473v1M500 520v2M501 17v1M501 24v7M501 44v1M501 54v2M501 61v1M501 126v2M501 473v1M501 519v2M502 26v2M502 44v1M502 86v11M502 126v2M502 473v1M502 519v2M503 44v1M503 127v3M503 473v1M503 519v2M504 44v1M504 127v3M504 473v1M504 520v2M505 44v1M505 52v4M505 60v1M505 127v4M505 473v1M505 520v10M506 29v1M506 44v1M506 51v2M506 55v1M506 60v2M506 68v11M506 86v4M506 94v2M506 127v4M506 473v1M507 29v3M507 44v1M507 51v1M507 55v2M507 61v1M507 78v1M507 86v1M507 90v1M507 95v2M507 127v4M507 473v1M508 15v1M508 31v2M508 44v1M508 51v1M508 56v1M508 61v1M508 78v1M508 86v1M508 90v1M508 96v1M508 126v3M508 473v1M509 15v1M509 31v2M509 44v1M509 51v1M509 56v1M509 61v1M509 78v1M509 86v1M509 90v2M509 96v1M509 128v2M509 473v1M510 15v1M510 32v1M510 45v2M510 57v1M510 61v1M510 78v1M510 86v1M510 129v1M510 470v2M511 15v1M511 32v1M511 44v1M511 52v1M511 57v4M511 78v1M511 86v1M511 91v2M511 95v2M511 129v3M511 473v1M512 15v1M512 21v2M512 32v1M512 78v1M512 86v1M512 93v2M512 129v1M512 132v1M513 15v1M513 19v4M513 32v1M513 69v1M513 132v2M514 15v1M514 18v5M514 32v1M514 44v1M514 68v2M514 72v7M514 131v3M514 473v1M515 15v1M515 17v3M515 21v2M515 31v2M515 44v1M515 51v11M515 131v2M515 473v1M516 15v3M516 22v2M516 30v3M516 44v1M516 86v11M516 130v4M516 473v1M517 15v2M517 22v3M517 28v4M517 44v1M517 130v4M517 473v1M518 23v7M518 44v1M518 51v11M518 129v5M518 473v1M519 44v1M519 51v11M519 86v11M519 130v4M519 473v1M520 44v1M520 86v11M520 130v4M520 473v1M521 44v1M521 131v2M521 473v1M521 518v11M522 44v5M522 131v3M522 469v5M522 489v1M522 516v4M522 526v5M523 44v1M523 133v3M523 473v1M523 489v1M523 514v3M523 529v3M524 18v13M524 44v1M524 132v4M524 473v1M524 489v1M524 513v3M524 531v2M525 17v4M525 23v3M525 28v4M525 44v1M525 134v6M525 473v1M525 489v1M525 501v3M525 512v2M525 532v2M526 15v3M526 22v2M526 30v3M526 44v1M526 137v4M526 473v1M526 489v1M526 499v3M526 512v1M526 533v1M527 15v2M527 22v1M527 31v2M527 44v1M527 139v4M527 473v1M527 489v1M527 497v3M528 15v1M528 21v2M528 32v1M528 44v1M528 140v3M528 473v1M528 489v1M528 495v3M528 527v3M529 15v1M529 21v2M529 32v1M529 44v1M529 137v5M529 473v1M529 489v1M529 493v3M529 525v4M530 15v1M530 21v2M530 32v1M530 44v1M530 138v4M530 473v1M530 489v5M530 522v5M531 15v1M531 21v2M531 31v2M531 44v1M531 139v3M531 473v1M531 489v3M531 520v5M532 15v2M532 22v2M532 31v2M532 44v1M532 140v5M532 473v1M532 489v1M532 512v3M532 517v4M532 524v1M533 15v3M533 22v3M533 30v2M533 44v1M533 140v2M533 473v1M533 511v8M533 524v1M534 16v2M534 23v8M534 44v1M534 138v3M534 473v1M534 511v8M534 524v1M535 25v4M535 44v5M535 139v3M535 469v5M535 493v6M535 512v3M535 517v5M535 524v1M536 44v1M536 139v5M536 473v1M536 490v5M536 497v5M536 520v5M537 44v1M537 141v3M537 473v1M537 489v3M537 500v3M537 522v5M538 44v1M538 138v3M538 473v1M538 489v1M538 502v1M538 525v4M539 44v1M539 137v3M539 473v1M539 489v1M539 502v2M539 528v2M540 29v3M540 44v1M540 136v4M540 473v1M540 489v1M540 502v2M541 15v1M541 30v3M541 44v1M541 136v5M541 473v1M541 489v1M541 502v2M541 512v1M541 533v1M542 15v1M542 31v2M542 44v1M542 138v9M542 473v1M542 489v1M542 502v1M542 512v2M542 532v2M543 15v1M543 32v1M543 44v1M543 146v3M543 473v1M543 489v3M543 500v3M543 513v3M543 531v2M544 15v1M544 32v1M544 44v1M544 142v5M544 473v1M544 491v11M544 515v3M544 529v3M545 15v1M545 21v2M545 32v1M545 44v1M545 142v5M545 473v1M545 494v4M545 516v5M545 526v4M546 15v1M546 20v3M546 32v1M546 44v1M546 143v6M546 473v1M546 518v10M547 15v1M547 19v4M547 32v1M547 44v10M547 146v5M547 464v10M548 15v1M548 17v3M548 21v2M548 31v2M548 44v1M548 150v3M548 473v1M548 494v4M549 15v4M549 21v2M549 31v2M549 44v1M549 151v3M549 473v1M549 491v11M550 15v2M550 22v2M550 29v3M550 44v1M550 149v5M550 473v1M550 489v3M550 500v3M551 15v1M551 23v8M551 44v1M551 146v4M551 473v1M551 489v1M551 502v1M552 25v3M552 44v1M552 145v5M552 473v1M552 489v1M552 502v2M553 44v1M553 147v5M553 473v1M553 489v1M553 502v2M554 44v1M554 148v4M554 473v1M554 489v1M554 502v2M555 44v1M555 150v2M555 473v1M555 489v1M555 502v1M556 32v1M556 44v1M556 150v2M556 473v1M556 489v3M556 500v3M557 17v3M557 31v2M557 44v1M557 146v5M557 473v1M557 490v5M557 497v5M558 16v3M558 30v3M558 44v1M558 148v3M558 473v1M558 493v6M559 15v2M559 29v2M559 32v1M559 44v1M559 150v1M559 473v1M560 15v1M560 28v2M560 32v1M560 44v5M560 150v2M560 469v5M561 15v1M561 27v2M561 32v1M561 44v1M561 150v4M561 473v1M561 494v4M562 15v1M562 26v2M562 32v1M562 44v1M562 153v3M562 473v1M562 491v10M563 15v1M563 25v2M563 32v1M563 44v1M563 154v2M563 473v1M563 489v3M563 500v3M564 15v1M564 24v2M564 32v1M564 44v1M564 153v3M564 473v1M564 489v2M564 502v1M565 15v2M565 22v3M565 32v1M565 44v1M565 155v6M565 473v1M565 489v1M565 502v2M566 15v3M566 21v3M566 32v1M566 44v1M566 159v3M566 473v1M566 489v1M566 502v2M567 16v7M567 32v1M567 44v1M567 158v3M567 473v1M567 489v1M567 502v2M568 32v1M568 44v1M568 157v2M568 473v1M568 489v1M568 502v1M569 44v1M569 157v2M569 473v1M569 489v3M569 501v2M570 44v1M570 155v4M570 473v1M570 490v5M570 497v5M571 15v2M571 44v1M571 157v3M571 473v1M571 493v6M572 15v4M572 44v5M572 159v3M572 469v5M573 17v5M573 44v1M573 159v2M573 473v1M574 20v4M574 44v1M574 159v1M574 473v1M575 22v5M575 44v1M575 159v3M575 473v1M576 25v5M576 44v1M576 162v2M576 473v1M577 28v4M577 44v1M577 162v2M577 473v1M578 30v3M578 44v1M578 162v2M578 473v1M579 28v5M579 44v1M579 162v3M579 473v1M580 25v5M580 44v1M580 162v2M580 473v1M581 23v4M581 44v1M581 159v5M581 473v1M582 20v5M582 44v1M582 159v3M582 473v1M583 17v5M583 44v1M583 161v1M583 473v1M584 15v4M584 44v1M584 161v4M584 473v1M585 15v2M585 44v5M585 162v3M585 469v5M586 44v1M586 163v2M586 473v1M587 44v1M587 164v3M587 473v1M588 19v10M588 44v1M588 164v2M588 473v1M589 17v5M589 26v5M589 44v1M589 165v2M589 473v1M590 15v3M590 30v3M590 44v1M590 166v3M590 473v1M591 15v2M591 31v2M591 44v1M591 168v3M591 473v1M592 15v1M592 32v1M592 44v1M592 168v2M592 473v1M593 15v1M593 32v1M593 44v1M593 168v2M593 473v1M594 15v1M594 32v1M594 44v1M594 168v2M594 473v1M595 15v1M595 32v1M595 44v1M595 169v3M595 473v1M596 15v1M596 31v2M596 44v1M596 171v3M596 473v1M597 15v2M597 31v2M597 44v5M597 173v2M597 469v5M598 16v3M598 29v3M598 44v1M598 173v3M598 473v1M599 17v6M599 25v6M599 44v1M599 172v3M599 473v1M600 20v8M600 44v1M600 170v5M600 473v1M601 44v1M601 170v2M601 473v1M602 44v1M602 170v3M602 473v1M603 44v1M603 170v3M603 473v1M604 44v1M604 170v4M604 473v1M605 44v1M605 170v3M605 473v1M606 44v1M606 171v2M606 473v1M607 18v1M607 44v1M607 171v4M607 473v1M608 17v2M608 44v1M608 173v4M608 473v1M608 541v19M608 578v9M609 16v3M609 44v1M609 176v2M609 473v1M609 541v19M609 577v2M609 586v3M610 15v3M610 44v5M610 177v1M610 469v5M610 558v2M610 576v2M610 587v2M611 15v18M611 44v1M611 176v3M611 473v1M611 558v2M611 576v1M611 588v2M612 15v18M612 44v1M612 176v3M612 473v1M612 558v2M612 576v1M612 588v2M613 44v1M613 176v1M613 473v1M613 558v2M613 576v1M613 588v2M614 44v1M614 176v2M614 473v1M614 558v2M614 576v1M614 588v2M615 44v1M615 175v4M615 473v1M615 558v2M615 576v2M615 587v2M616 44v1M616 178v2M616 473v1M616 558v2M616 577v3M616 586v2M617 44v1M617 178v2M617 473v1M617 558v2M617 579v8M618 39v1M618 44v1M618 177v2M618 473v1M618 558v2M619 39v1M619 44v1M619 177v3M619 473v1M619 558v2M620 39v1M620 44v1M620 177v3M620 473v1M620 557v3M621 39v1M621 44v1M621 178v2M621 473v1M621 555v4M621 576v14M622 39v1M622 44v5M622 178v4M622 469v5M622 552v4M622 581v2M622 587v2M623 39v1M623 44v1M623 180v1M623 473v1M623 549v5M623 580v2M623 588v1M624 39v1M624 44v1M624 179v3M624 473v1M624 547v4M624 552v2M624 580v1M624 588v2M625 39v1M625 44v1M625 181v2M625 473v1M625 544v5M625 552v2M625 580v1M625 588v2M626 39v1M626 44v1M626 182v4M626 473v1M626 541v5M626 552v2M626 580v2M626 588v2M627 39v1M627 44v1M627 184v2M627 473v1M627 541v3M627 552v2M627 580v3M627 587v2M628 39v1M628 44v1M628 184v3M628 473v1M628 543v4M628 552v2M628 581v7M629 21v5M629 30v2M629 44v1M629 183v3M629 473v1M629 545v5M629 552v2M629 583v3M630 21v2M630 24v2M630 31v2M630 44v1M630 182v3M630 473v1M630 548v6M631 21v1M631 25v2M631 31v2M631 44v1M631 184v2M631 473v1M631 550v5M632 20v2M632 25v2M632 32v1M632 44v1M632 185v1M632 473v1M632 553v5M632 581v3M632 587v2M633 20v2M633 26v1M633 32v1M633 44v1M633 184v3M633 473v1M633 556v4M633 580v5M633 587v2M634 20v2M634 26v1M634 32v1M634 44v1M634 185v3M634 473v1M634 558v2M634 580v2M634 583v2M634 588v2M635 20v2M635 26v2M635 32v1M635 44v5M635 185v2M635 469v5M635 580v1M635 584v1M635 588v2M636 21v1M636 26v2M636 31v2M636 44v1M636 185v3M636 473v1M636 580v1M636 584v1M636 588v2M637 21v2M637 27v2M637 30v3M637 44v1M637 186v4M637 473v1M637 541v19M637 580v2M637 584v2M637 588v2M638 22v2M638 27v5M638 44v1M638 188v3M638 473v1M638 541v19M638 580v3M638 585v4M639 44v1M639 189v3M639 473v1M639 543v5M639 581v2M639 585v3M640 44v1M640 190v2M640 473v1M640 546v4M641 44v1M641 189v3M641 473v1M641 548v5M642 44v1M642 188v2M642 473v1M642 551v4M643 44v1M643 189v2M643 473v1M643 554v4M643 583v1M644 20v19M644 44v1M644 188v3M644 473v1M644 556v4M644 583v1M645 21v3M645 30v3M645 44v1M645 189v2M645 473v1M645 555v4M645 583v1M646 21v2M646 31v2M646 44v1M646 189v3M646 473v1M646 552v5M646 583v1M647 20v2M647 32v1M647 44v5M647 190v2M647 469v5M647 497v5M647 550v4M647 583v1M648 20v2M648 32v1M648 44v1M648 189v2M648 473v1M648 489v5M648 496v3M648 500v3M648 547v4M648 583v1M649 20v2M649 32v1M649 44v1M649 190v2M649 473v1M649 489v2M649 493v4M649 502v1M649 544v5M649 583v1M650 20v2M650 32v1M650 44v1M650 190v2M650 473v1M650 489v1M650 494v2M650 502v2M650 542v4M650 583v1M651 21v2M651 31v2M651 44v1M651 190v3M651 473v1M651 489v1M651 494v2M651 502v2M651 541v19M651 583v1M652 21v3M652 30v3M652 44v1M652 191v2M652 473v1M652 489v1M652 494v2M652 502v2M652 583v1M653 22v4M653 28v4M653 44v1M653 192v2M653 473v1M653 489v1M653 494v2M653 502v2M653 583v1M654 24v6M654 44v1M654 191v3M654 473v1M654 489v1M654 494v2M654 502v1M654 583v1M655 44v1M655 192v2M655 473v1M655 489v2M655 492v5M655 501v2M656 44v1M656 192v4M656 473v1M656 490v4M656 496v7M656 548v5M657 44v1M657 194v5M657 473v1M657 498v3M657 545v11M658 44v1M658 197v1M658 473v1M658 543v4M658 554v3M658 576v14M659 18v12M659 44v1M659 198v2M659 473v1M659 542v3M659 556v2M659 576v14M660 17v4M660 27v4M660 44v5M660 197v2M660 469v5M660 493v6M660 541v3M660 557v2M660 576v1M660 588v2M661 15v3M661 30v3M661 44v1M661 197v2M661 473v1M661 490v5M661 497v5M661 541v2M661 558v2M661 576v1M661 588v2M662 15v2M662 31v2M662 44v1M662 196v2M662 473v1M662 489v3M662 500v3M662 541v1M662 558v2M662 576v1M662 588v2M663 15v1M663 32v1M663 44v1M663 196v2M663 473v1M663 489v1M663 502v1M663 541v1M663 558v2M663 576v1M663 588v2M664 15v1M664 32v1M664 44v1M664 194v3M664 473v1M664 489v1M664 502v2M664 541v1M664 558v2M664 576v2M664 588v1M665 15v1M665 32v1M665 44v1M665 193v3M665 473v1M665 489v1M665 502v2M665 541v2M665 558v2M665 576v3M665 587v2M666 15v1M666 32v1M666 44v1M666 192v8M666 473v1M666 489v1M666 502v2M666 541v2M666 558v1M666 577v4M666 585v3M667 15v2M667 31v2M667 44v1M667 198v3M667 473v1M667 489v1M667 502v1M667 542v2M667 557v2M667 579v7M668 15v3M668 30v3M668 44v1M668 197v2M668 473v1M668 489v3M668 500v3M668 543v2M668 555v3M669 16v3M669 29v3M669 44v1M669 196v2M669 473v1M669 491v11M669 544v4M669 553v4M670 17v14M670 44v1M670 197v4M670 473v1M670 494v4M670 546v9M670 583v3M671 21v6M671 44v1M671 200v3M671 473v1M671 581v7M672 44v10M672 202v3M672 464v10M672 581v2M672 587v2M673 44v1M673 202v3M673 473v1M673 494v4M673 580v2M673 588v2M674 44v1M674 204v3M674 473v1M674 491v11M674 580v1M674 588v2M675 29v1M675 44v1M675 205v2M675 473v1M675 489v3M675 500v3M675 543v5M675 556v2M675 580v1M675 588v2M676 29v3M676 44v1M676 205v4M676 473v1M676 489v1M676 502v1M676 542v2M676 546v3M676 556v3M676 580v2M676 588v1M677 15v1M677 30v3M677 44v1M677 205v3M677 473v1M677 489v1M677 502v2M677 541v2M677 547v2M677 557v2M677 581v2M677 587v2M678 15v1M678 31v2M678 44v1M678 202v4M678 473v1M678 489v1M678 502v2M678 541v2M678 548v2M678 558v1M678 580v10M679 15v1M679 32v1M679 44v1M679 200v3M679 473v1M679 489v1M679 502v2M679 541v1M679 548v2M679 558v2M680 15v1M680 32v1M680 44v1M680 200v3M680 473v1M680 489v1M680 502v1M680 541v1M680 549v1M680 558v2M681 15v1M681 21v2M681 32v1M681 44v1M681 200v3M681 473v1M681 489v3M681 500v3M681 541v1M681 549v2M681 558v2M681 580v1M682 15v1M682 20v3M682 32v1M682 44v1M682 200v2M682 473v1M682 490v5M682 497v5M682 541v1M682 549v2M682 558v2M682 580v1M683 15v1M683 18v5M683 32v1M683 44v1M683 200v4M683 473v1M683 493v6M683 541v2M683 550v1M683 558v2M683 576v13M684 15v1M684 17v3M684 21v2M684 31v2M684 44v1M684 202v3M684 473v1M684 541v2M684 550v2M684 558v1M684 580v1M684 587v2M685 15v4M685 21v2M685 30v3M685 44v5M685 203v2M685 469v5M685 542v2M685 551v2M685 557v2M685 580v1M685 588v2M686 15v2M686 22v3M686 29v3M686 44v1M686 202v2M686 473v1M686 494v4M686 542v3M686 551v7M686 580v1M686 588v2M687 15v1M687 23v8M687 44v1M687 202v4M687 473v1M687 491v10M687 543v2M687 553v4M688 44v1M688 204v6M688 473v1M688 489v3M688 500v3M689 44v1M689 208v2M689 473v1M689 489v2M689 502v1M689 582v5M690 44v1M690 209v4M690 473v1M690 489v1M690 502v2M690 541v1M690 581v4M690 586v3M691 44v1M691 210v2M691 473v1M691 489v1M691 502v2M691 541v1M691 580v2M691 584v1M691 587v2M692 44v1M692 211v3M692 473v1M692 489v1M692 502v2M692 541v1M692 580v1M692 584v1M692 588v2M693 25v1M693 44v1M693 212v4M693 473v1M693 489v1M693 502v1M693 541v1M693 580v1M693 584v1M693 588v2M694 25v1M694 44v1M694 214v1M694 473v1M694 489v3M694 501v2M694 541v1M694 580v2M694 584v1M694 588v2M695 25v1M695 44v1M695 212v2M695 473v1M695 490v5M695 497v5M695 541v1M695 580v2M695 584v1M695 587v2M696 25v1M696 44v1M696 211v3M696 473v1M696 493v6M696 541v19M696 581v4M696 587v2M697 25v1M697 44v5M697 209v3M697 469v5M697 541v1M698 25v1M698 44v1M698 208v2M698 473v1M698 541v1M699 25v1M699 44v1M699 208v2M699 473v1M699 541v1M700 25v1M700 44v1M700 210v4M700 473v1M700 541v1M700 581v1M700 588v1M701 25v1M701 44v1M701 213v1M701 473v1M701 541v1M701 580v2M701 587v3M702 25v1M702 44v1M702 212v2M702 473v1M702 541v1M702 580v2M702 588v1M703 25v1M703 44v1M703 202v11M703 473v1M704 25v1M704 44v1M704 200v13M704 473v1M705 25v1M705 44v1M705 199v15M705 473v1M706 25v1M706 44v1M706 202v21M706 473v1M707 25v1M707 44v1M707 222v5M707 473v1M708 25v1M708 44v1M708 219v5M708 473v1M709 44v1M709 220v1M709 473v1M710 44v5M710 218v3M710 469v5M711 44v1M711 212v7M711 473v1M712 44v1M712 218v8M712 473v1M713 44v1M713 219v4M713 473v1M714 18v12M714 44v1M714 218v2M714 473v1M715 17v4M715 27v4M715 44v1M715 219v2M715 473v1M715 588v2M716 15v3M716 30v3M716 44v1M716 217v3M716 473v1M716 577v3M716 587v3M717 15v2M717 31v2M717 44v1M717 217v1M717 473v1M717 576v3M717 586v4M718 15v1M718 32v1M718 44v1M718 216v2M718 473v1M718 576v1M718 585v5M719 15v1M719 32v1M719 44v1M719 217v3M719 473v1M719 541v19M719 576v1M719 584v3M719 588v2M720 15v1M720 32v1M720 44v1M720 220v3M720 473v1M720 541v1M720 558v2M720 576v1M720 583v3M720 588v2M721 15v1M721 32v1M721 44v1M721 220v3M721 473v1M721 541v1M721 558v2M721 576v1M721 582v3M721 588v2M722 15v2M722 31v2M722 44v5M722 70v7M722 219v2M722 469v5M722 541v1M722 558v2M722 576v2M722 581v3M722 588v2M723 15v3M723 30v3M723 44v1M723 69v3M723 76v3M723 218v4M723 473v1M723 541v1M723 558v2M723 577v5M723 588v2M724 16v3M724 29v3M724 44v1M724 68v2M724 78v1M724 221v1M724 473v1M724 541v1M724 558v2M724 588v2M725 17v14M725 44v1M725 68v2M725 78v1M725 221v3M725 473v1M725 541v1M725 558v2M726 21v6M726 44v1M726 68v1M726 78v1M726 224v2M726 473v1M726 541v2M726 558v1M727 44v1M727 68v2M727 78v1M727 224v1M727 473v1M727 541v2M727 557v2M727 580v5M728 44v1M728 53v7M728 69v2M728 77v2M728 222v3M728 473v1M728 542v2M728 556v3M728 577v11M729 44v1M729 52v2M729 59v2M729 70v2M729 76v2M729 223v2M729 473v1M729 543v3M729 555v3M729 576v3M729 587v2M730 26v4M730 44v1M730 51v2M730 60v2M730 223v2M730 473v1M730 544v12M730 576v2M730 588v1M731 17v4M731 24v8M731 44v1M731 51v1M731 61v1M731 222v3M731 473v1M731 547v7M731 576v1M731 588v2M732 15v7M732 23v3M732 31v2M732 44v1M732 51v1M732 61v1M732 73v5M732 224v2M732 473v1M732 576v1M732 588v2M733 15v2M733 21v1M733 23v2M733 31v2M733 44v1M733 51v1M733 61v1M733 72v2M733 77v2M733 226v8M733 473v1M733 576v1M733 588v1M734 15v1M734 21v3M734 32v1M734 61v1M734 78v1M734 233v1M734 236v2M734 240v2M734 244v2M734 576v2M734 587v2M735 15v1M735 21v3M735 32v1M735 44v5M735 52v2M735 59v2M735 72v1M735 78v1M735 228v14M735 469v5M735 577v4M735 584v4M736 15v1M736 22v1M736 32v1M736 44v1M736 72v1M736 78v1M736 228v2M736 473v1M736 541v19M736 579v7M737 15v1M737 22v1M737 32v1M737 44v1M737 72v2M737 77v2M737 226v3M737 473v1M737 541v19M738 15v1M738 21v3M738 32v1M738 44v1M738 56v5M738 72v7M738 228v8M738 473v1M738 541v1M738 549v2M739 15v1M739 21v3M739 32v1M739 44v1M739 55v2M739 60v2M739 235v38M739 473v1M739 541v1M739 549v2M740 15v2M740 20v2M740 23v2M740 31v2M740 54v1M740 61v1M740 267v2M740 271v2M740 275v2M740 541v1M740 549v2M741 15v7M741 24v2M741 30v3M741 44v1M741 54v1M741 61v1M741 68v11M741 231v37M741 473v1M741 541v1M741 549v2M741 578v1M742 17v3M742 25v7M742 44v1M742 54v2M742 61v1M742 227v5M742 473v1M742 541v1M742 549v2M742 577v2M743 44v1M743 55v2M743 60v2M743 88v7M743 225v3M743 473v1M743 541v1M743 549v4M743 577v2M744 44v1M744 54v8M744 87v2M744 94v2M744 225v3M744 473v1M744 541v1M744 549v5M744 576v14M745 44v1M745 68v11M745 86v2M745 95v2M745 227v2M745 473v1M745 541v2M745 549v1M745 553v3M746 44v1M746 86v1M746 96v1M746 227v2M746 473v1M746 541v2M746 548v2M746 554v3M747 25v6M747 44v5M747 51v11M747 86v1M747 96v1M747 228v3M747 469v5M747 542v3M747 547v3M747 556v3M748 16v5M748 24v3M748 29v3M748 44v1M748 86v1M748 95v2M748 228v3M748 473v1M748 543v6M748 557v3M749 15v3M749 20v2M749 23v2M749 31v2M749 44v1M749 86v2M749 94v2M749 229v2M749 473v1M750 15v2M750 21v3M750 31v2M750 44v1M750 87v2M750 93v2M750 229v2M750 473v1M751 15v1M751 21v3M751 32v1M751 44v1M751 51v11M751 230v3M751 473v1M751 586v1M752 15v1M752 21v3M752 32v1M752 44v1M752 232v4M752 473v1M752 576v6M752 586v3M753 15v1M753 22v1M753 32v1M753 44v1M753 90v6M753 235v8M753 473v1M753 555v2M753 576v2M753 580v2M753 588v1M754 15v1M754 21v3M754 32v1M754 44v1M754 89v2M754 94v2M754 242v28M754 473v1M754 541v9M754 556v3M754 576v1M754 580v1M754 588v2M755 15v1M755 21v3M755 32v1M755 89v2M755 260v1M755 263v2M755 267v2M755 271v1M755 541v5M755 547v2M755 557v2M755 576v1M755 580v1M755 588v2M756 15v1M756 21v3M756 31v2M756 44v1M756 89v1M756 96v1M756 237v22M756 473v1M756 541v1M756 547v2M756 558v1M756 576v1M756 580v1M756 588v2M757 15v3M757 20v2M757 23v2M757 31v2M757 44v1M757 89v2M757 95v2M757 235v4M757 473v1M757 541v1M757 547v1M757 558v2M757 576v1M757 580v2M757 588v1M758 16v5M758 24v3M758 29v3M758 44v1M758 89v2M758 94v2M758 235v1M758 473v1M758 541v1M758 547v1M758 558v2M758 576v1M758 580v2M758 587v2M759 25v6M759 44v1M759 89v8M759 234v2M759 473v1M759 541v1M759 547v1M759 558v2M759 576v1M759 581v3M759 585v3M760 44v5M760 232v3M760 469v5M760 541v1M760 547v1M760 558v2M760 583v4M761 44v1M761 232v2M761 473v1M761 541v1M761 547v2M761 558v1M762 44v1M762 86v11M762 231v2M762 473v1M762 541v1M762 547v2M762 557v2M763 44v1M763 230v2M763 473v1M763 541v1M763 548v2M763 556v3M763 580v5M764 31v1M764 44v1M764 231v4M764 473v1M764 549v4M764 554v4M764 577v5M764 583v5M765 30v3M765 44v1M765 234v2M765 473v1M765 551v5M765 576v3M765 587v2M766 30v3M766 44v1M766 86v11M766 234v2M766 473v1M766 576v1M766 588v1M767 31v1M767 44v1M767 234v2M767 473v1M767 576v1M767 588v2M768 44v1M768 232v3M768 473v1M768 576v1M768 588v2M769 44v1M769 232v4M769 473v1M769 576v1M769 588v1M770 44v1M770 235v3M770 473v1M770 576v2M770 587v2M771 20v2M771 44v1M771 236v2M771 473v1M771 577v4M771 584v4M772 20v2M772 44v5M772 237v6M772 469v5M772 492v3M772 580v6M773 20v2M773 44v1M773 238v3M773 473v1M773 490v3M773 494v3M773 500v3M774 16v17M774 44v1M774 237v4M774 473v1M774 489v2M774 496v2M774 502v1M775 15v3M775 20v2M775 44v1M775 240v4M775 473v1M775 489v1M775 497v1M775 502v2M775 579v3M776 15v1M776 20v2M776 44v1M776 242v2M776 473v1M776 489v1M776 497v1M776 502v2M776 577v7M776 587v2M777 15v1M777 20v2M777 44v1M777 241v4M777 473v1M777 489v1M777 497v1M777 502v2M777 576v2M777 582v2M777 588v1M778 15v1M778 44v1M778 243v2M778 473v1M778 489v1M778 497v1M778 502v1M778 576v1M778 583v2M778 588v2M779 44v1M779 245v4M779 473v1M779 489v2M779 496v2M779 501v2M779 576v1M779 583v2M779 588v2M780 44v1M780 247v3M780 473v1M780 490v12M780 576v1M780 583v2M780 588v2M781 44v1M781 245v3M781 473v1M781 492v8M781 576v2M781 583v1M781 588v1M782 14v2M782 44v1M782 245v1M782 473v1M782 577v2M782 582v2M782 586v3M783 14v3M783 20v13M783 44v1M783 242v4M783 473v1M783 578v9M784 14v2M784 44v1M784 239v4M784 473v1M785 44v5M785 237v3M785 469v5M785 493v6M786 44v1M786 235v3M786 473v1M786 490v5M786 497v5M787 44v1M787 234v2M787 473v1M787 489v3M787 500v3M787 588v2M788 20v2M788 44v1M788 235v4M788 473v1M788 489v1M788 502v1M788 577v3M788 587v3M789 20v2M789 44v1M789 232v5M789 473v1M789 489v1M789 502v2M789 576v2M789 586v4M790 15v15M790 44v1M790 232v7M790 473v1M790 489v1M790 502v2M790 576v1M790 585v2M790 588v2M791 15v18M791 44v1M791 238v7M791 473v1M791 489v1M791 502v2M791 576v1M791 584v2M791 588v2M792 20v2M792 31v2M792 44v1M792 244v13M792 473v1M792 489v1M792 502v1M792 576v1M792 583v2M792 588v2M793 20v2M793 32v1M793 44v1M793 256v4M793 473v1M793 489v3M793 500v3M793 576v1M793 582v2M793 588v2M794 20v2M794 32v1M794 44v1M794 249v11M794 473v1M794 491v11M794 576v2M794 581v2M794 588v2M795 32v1M795 44v1M795 248v31M795 473v1M795 494v4M795 577v5M795 588v2M796 44v1M796 81v1M796 212v1M796 277v12M796 342v1M796 473v1M796 588v2M797 44v10M797 81v1M797 212v1M797 259v19M797 342v1M797 464v10M798 44v1M798 81v1M798 212v1M798 261v9M798 342v1M798 473v1M798 494v4M799 21v5M799 30v2M799 44v1M799 81v1M799 212v1M799 259v4M799 342v1M799 473v1M799 491v11M800 21v2M800 24v2M800 31v2M800 44v1M800 81v1M800 212v1M800 255v5M800 342v1M800 473v1M800 489v3M800 500v3M801 21v1M801 25v2M801 31v2M801 44v1M801 81v1M801 212v1M801 227v29M801 342v1M801 473v1M801 489v1M801 502v1M801 578v1M802 20v2M802 25v2M802 32v1M802 44v1M802 81v1M802 212v1M802 224v3M802 342v1M802 473v1M802 489v1M802 502v2M802 577v2M803 20v2M803 26v1M803 32v1M803 44v1M803 55v1M803 81v1M803 107v1M803 133v1M803 159v1M803 185v1M803 212v1M803 225v3M803 238v1M803 264v1M803 290v1M803 316v1M803 342v1M803 369v1M803 395v1M803 421v1M803 447v1M803 473v1M803 489v1M803 502v2M803 576v3M804 20v2M804 26v1M804 32v1M804 44v1M804 55v1M804 81v1M804 107v1M804 133v1M804 159v1M804 185v1M804 212v1M804 226v249M804 489v1M804 502v2M804 576v14M805 20v2M805 26v2M805 32v1M805 44v1M805 55v1M805 81v1M805 107v1M805 133v1M805 159v1M805 185v1M805 212v1M805 238v1M805 264v1M805 290v1M805 316v1M805 342v1M805 359v115M805 489v1M805 502v1M806 21v1M806 26v2M806 31v2M806 44v1M806 55v1M806 81v1M806 107v1M806 133v1M806 159v1M806 185v1M806 212v1M806 238v1M806 264v1M806 290v1M806 316v1M806 342v1M806 369v1M806 395v1M806 421v1M806 447v1M806 473v1M806 489v3M806 500v3M807 21v2M807 27v2M807 30v3M807 44v1M807 55v1M807 81v1M807 107v1M807 133v1M807 159v1M807 185v1M807 212v1M807 238v1M807 264v1M807 290v1M807 316v1M807 342v1M807 369v1M807 395v1M807 421v1M807 447v1M807 473v1M807 490v5M807 497v5M808 22v2M808 28v4M808 44v1M808 55v1M808 81v1M808 107v1M808 133v1M808 159v1M808 185v1M808 212v1M808 238v1M808 264v1M808 290v1M808 316v1M808 342v1M808 369v1M808 395v1M808 421v1M808 447v1M808 473v1M808 493v6M809 44v1M809 55v1M809 81v1M809 107v1M809 133v1M809 159v1M809 185v1M809 212v1M809 238v1M809 264v1M809 290v1M809 316v1M809 342v1M809 369v1M809 395v1M809 421v1M809 447v1M809 473v1M810 44v430M811 494v4M812 491v10M813 489v3M813 500v3M814 489v2M814 502v1M815 489v1M815 502v2M816 489v1M816 502v2M817 489v1M817 502v2M818 489v1M818 502v1M819 489v3M819 501v2M820 490v5M820 497v5M821 493v6" stroke="#000" stroke-width="1" fill="none" shape-rendering="crispEdges"/>
<path transform="translate(.5 0)" d="M138 44v1M138 55v1M138 71v2M138 75v2M138 107v1M138 159v1M138 238v1M138 250v2M138 254v2M138 258v2M138 261v2M138 265v2M138 269v2M138 273v2M138 277v2M138 281v2M138 285v2M138 289v2M138 342v1M138 369v1M138 421v1M138 473v1M147 44v1M147 47v2M147 91v1M147 190v2M147 194v2M147 198v2M147 202v2M147 206v2M147 210v2M147 214v2M147 218v2M147 342v1M147 469v1M147 472v2M151 44v1M151 51v2M151 56v1M151 277v2M151 281v2M151 285v2M151 289v2M151 473v1M158 44v1M158 75v2M158 95v2M158 99v1M158 219v1M158 222v2M158 226v2M158 230v2M158 234v2M158 238v2M158 242v2M158 246v2M158 250v2M158 254v2M158 258v2M158 261v2M158 473v1M164 44v1M164 55v2M164 75v1M164 87v2M164 91v2M164 95v2M164 309v2M164 313v2M164 317v2M164 321v2M164 325v2M164 329v2M164 333v2M164 337v2M164 341v2M164 345v2M164 349v2M164 353v2M164 357v2M164 361v2M164 365v2M164 369v2M164 373v2M164 377v2M164 381v2M164 385v2M164 389v2M164 393v2M164 397v2M164 401v2M164 404v2M164 408v2M164 412v2M164 416v2M164 473v1M168 44v1M168 91v1M168 301v2M168 305v2M168 309v2M168 313v2M168 317v2M168 321v2M168 325v2M168 329v2M168 333v2M168 337v2M168 341v2M168 345v2M168 349v2M168 353v2M168 357v2M168 361v2M168 365v2M168 369v2M168 373v2M168 377v2M168 381v2M168 385v2M168 389v2M168 393v2M168 473v1M181 44v1M181 56v1M181 139v1M181 142v2M181 146v2M181 150v2M181 154v2M181 158v2M181 162v2M181 166v2M181 473v1M185 44v1M185 47v2M185 115v2M185 119v1M185 122v2M185 126v2M185 130v2M185 134v2M185 138v2M185 142v2M185 146v2M185 150v2M185 154v2M185 158v2M185 162v2M185 166v2M185 170v2M185 174v2M185 178v2M185 182v1M185 469v1M185 472v2M210 44v1M210 47v2M210 51v1M210 96v1M210 242v2M210 246v2M210 250v2M210 254v2M210 258v2M210 469v1M210 472v2M215 44v1M215 55v2M215 111v2M215 115v2M215 119v1M215 122v2M215 126v2M215 130v2M215 134v2M215 138v2M215 142v2M215 146v2M215 150v2M215 154v2M215 158v2M215 162v2M215 166v2M215 170v2M215 174v2M215 178v2M215 473v1M217 44v1M217 72v1M217 111v2M217 115v2M217 119v1M217 122v2M217 126v2M217 130v2M217 134v2M217 138v2M217 473v1M280 44v1M280 63v2M280 67v2M280 71v2M280 75v2M280 79v2M280 83v2M280 87v2M280 91v2M280 95v2M280 99v2M280 103v2M280 107v2M280 111v2M280 115v2M280 119v1M280 122v2M280 126v2M280 130v2M280 134v2M280 473v1M292 44v1M292 51v1M292 60v1M292 63v2M292 67v2M292 71v2M292 473v1M298 44v1M298 71v2M298 75v2M298 79v2M298 83v2M298 87v2M298 473v1M319 44v1M319 87v2M319 91v2M319 95v2M319 99v2M319 103v2M319 107v2M319 111v2M319 473v1M409 44v1M409 107v2M409 111v2M409 115v2M409 119v1M409 122v2M409 126v2M409 130v2M409 473v1M460 44v1M460 47v2M460 51v2M460 60v1M460 112v1M460 115v1M460 469v1M460 472v2M467 44v1M467 87v1M467 95v2M467 111v2M467 473v1M490 44v1M490 51v2M490 55v2M490 59v2M490 119v1M490 122v2M490 126v2M490 473v1M492 44v1M492 91v2M492 146v2M492 150v2M492 154v2M492 158v2M492 162v2M492 166v2M492 170v2M492 174v2M492 178v2M492 473v1M495 44v1M495 55v2M495 122v2M495 473v1M510 44v1M510 47v2M510 51v2M510 56v1M510 60v1M510 91v1M510 96v1M510 130v1M510 469v1M510 472v2M512 44v1M512 87v1M512 92v1M512 95v1M512 130v2M512 473v1M513 44v1M513 68v1M513 130v2M513 473v1M734 44v1M734 51v2M734 60v1M734 72v1M734 234v2M734 238v2M734 242v2M734 246v2M734 473v1M740 44v1M740 55v1M740 269v2M740 273v2M740 473v1M755 44v1M755 95v2M755 258v2M755 261v2M755 265v2M755 269v2M755 473v1" stroke="#5a1414" stroke-width="1" fill="none" shape-rendering="crispEdges"/>
</svg>
</body></html>
